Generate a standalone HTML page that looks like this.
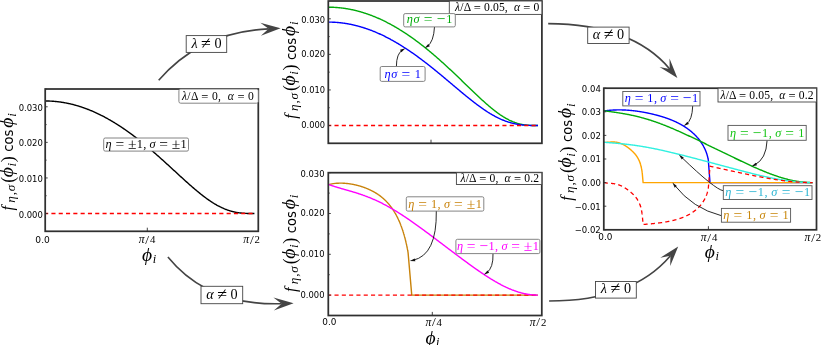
<!DOCTYPE html>
<html><head><meta charset="utf-8"><title>figure</title>
<style>
html,body{margin:0;padding:0;background:#fff;}
body{width:822px;height:345px;overflow:hidden;}
svg{display:block;will-change:transform;}
.tk{font-family:"DejaVu Sans","Liberation Sans",sans-serif;font-size:8.9px;fill:#000;}
.m{font-family:"Liberation Serif",serif;}
.mi{font-family:"Liberation Serif",serif;font-style:italic;}
.op{font-family:"Liberation Serif","DejaVu Serif",serif;}
.sn{font-family:"DejaVu Sans","Liberation Sans",sans-serif;}
</style></head><body>
<svg width="822" height="345" viewBox="0 0 822 345">
<rect width="822" height="345" fill="#fff"/>
<polyline points="45.20,100.99 45.72,100.99 46.25,100.99 46.77,101.00 47.30,101.01 47.82,101.02 48.35,101.03 48.87,101.05 49.39,101.07 49.92,101.09 50.44,101.12 50.97,101.14 51.49,101.17 52.02,101.20 52.54,101.24 53.07,101.28 53.59,101.31 54.11,101.36 54.64,101.40 55.16,101.45 55.69,101.50 56.21,101.55 56.74,101.60 57.26,101.66 57.78,101.72 58.31,101.78 58.83,101.85 59.36,101.92 59.88,101.99 60.41,102.06 60.93,102.13 61.45,102.21 61.98,102.29 62.50,102.37 63.03,102.46 63.55,102.55 64.08,102.64 64.60,102.73 65.12,102.82 65.65,102.92 66.17,103.02 66.70,103.12 67.22,103.23 67.75,103.34 68.27,103.45 68.80,103.56 69.32,103.68 69.84,103.79 70.37,103.91 70.89,104.04 71.42,104.16 71.94,104.29 72.47,104.42 72.99,104.55 73.51,104.69 74.04,104.83 74.56,104.97 75.09,105.11 75.61,105.25 76.14,105.40 76.66,105.55 77.18,105.70 77.71,105.86 78.23,106.02 78.76,106.18 79.28,106.34 79.81,106.51 80.33,106.67 80.85,106.84 81.38,107.02 81.90,107.19 82.43,107.37 82.95,107.55 83.48,107.73 84.00,107.91 84.53,108.10 85.05,108.29 85.57,108.48 86.10,108.68 86.62,108.87 87.15,109.07 87.67,109.27 88.20,109.48 88.72,109.69 89.24,109.89 89.77,110.11 90.29,110.32 90.82,110.54 91.34,110.75 91.87,110.98 92.39,111.20 92.91,111.42 93.44,111.65 93.96,111.88 94.49,112.12 95.01,112.35 95.54,112.59 96.06,112.83 96.59,113.07 97.11,113.32 97.63,113.56 98.16,113.81 98.68,114.06 99.21,114.32 99.73,114.57 100.26,114.83 100.78,115.09 101.30,115.36 101.83,115.62 102.35,115.89 102.88,116.16 103.40,116.43 103.93,116.71 104.45,116.99 104.97,117.27 105.50,117.55 106.02,117.83 106.55,118.12 107.07,118.41 107.60,118.70 108.12,118.99 108.64,119.29 109.17,119.58 109.69,119.88 110.22,120.19 110.74,120.49 111.27,120.80 111.79,121.10 112.32,121.42 112.84,121.73 113.36,122.04 113.89,122.36 114.41,122.68 114.94,123.00 115.46,123.33 115.99,123.65 116.51,123.98 117.03,124.31 117.56,124.64 118.08,124.98 118.61,125.32 119.13,125.66 119.66,126.00 120.18,126.34 120.70,126.68 121.23,127.03 121.75,127.38 122.28,127.73 122.80,128.09 123.33,128.44 123.85,128.80 124.37,129.16 124.90,129.52 125.42,129.88 125.95,130.25 126.47,130.62 127.00,130.99 127.52,131.36 128.05,131.73 128.57,132.11 129.09,132.49 129.62,132.87 130.14,133.25 130.67,133.63 131.19,134.02 131.72,134.40 132.24,134.79 132.76,135.18 133.29,135.57 133.81,135.97 134.34,136.37 134.86,136.76 135.39,137.16 135.91,137.57 136.43,137.97 136.96,138.37 137.48,138.78 138.01,139.19 138.53,139.60 139.06,140.01 139.58,140.43 140.10,140.84 140.63,141.26 141.15,141.68 141.68,142.10 142.20,142.52 142.73,142.95 143.25,143.37 143.78,143.80 144.30,144.23 144.82,144.66 145.35,145.09 145.87,145.53 146.40,145.96 146.92,146.40 147.45,146.84 147.97,147.28 148.49,147.72 149.02,148.16 149.54,148.60 150.07,149.05 150.59,149.49 151.12,149.94 151.64,150.39 152.16,150.84 152.69,151.29 153.21,151.75 153.74,152.20 154.26,152.66 154.79,153.11 155.31,153.57 155.84,154.03 156.36,154.49 156.88,154.95 157.41,155.41 157.93,155.88 158.46,156.34 158.98,156.81 159.51,157.27 160.03,157.74 160.55,158.21 161.08,158.68 161.60,159.15 162.13,159.62 162.65,160.09 163.18,160.57 163.70,161.04 164.22,161.51 164.75,161.99 165.27,162.46 165.80,162.94 166.32,163.42 166.85,163.90 167.37,164.37 167.89,164.85 168.42,165.33 168.94,165.81 169.47,166.29 169.99,166.77 170.52,167.25 171.04,167.73 171.57,168.22 172.09,168.70 172.61,169.18 173.14,169.66 173.66,170.14 174.19,170.63 174.71,171.11 175.24,171.59 175.76,172.07 176.28,172.55 176.81,173.04 177.33,173.52 177.86,174.00 178.38,174.48 178.91,174.96 179.43,175.44 179.95,175.92 180.48,176.40 181.00,176.88 181.53,177.36 182.05,177.84 182.58,178.32 183.10,178.80 183.62,179.27 184.15,179.75 184.67,180.22 185.20,180.70 185.72,181.17 186.25,181.64 186.77,182.11 187.30,182.58 187.82,183.05 188.34,183.52 188.87,183.98 189.39,184.45 189.92,184.91 190.44,185.37 190.97,185.83 191.49,186.29 192.01,186.74 192.54,187.20 193.06,187.65 193.59,188.10 194.11,188.55 194.64,189.00 195.16,189.45 195.68,189.89 196.21,190.33 196.73,190.77 197.26,191.20 197.78,191.64 198.31,192.07 198.83,192.50 199.36,192.92 199.88,193.35 200.40,193.77 200.93,194.19 201.45,194.60 201.98,195.01 202.50,195.42 203.03,195.83 203.55,196.23 204.07,196.63 204.60,197.02 205.12,197.42 205.65,197.80 206.17,198.19 206.70,198.57 207.22,198.95 207.74,199.32 208.27,199.69 208.79,200.06 209.32,200.42 209.84,200.78 210.37,201.13 210.89,201.48 211.41,201.83 211.94,202.17 212.46,202.51 212.99,202.84 213.51,203.17 214.04,203.49 214.56,203.81 215.09,204.12 215.61,204.43 216.13,204.73 216.66,205.03 217.18,205.33 217.71,205.61 218.23,205.90 218.76,206.18 219.28,206.45 219.80,206.72 220.33,206.98 220.85,207.24 221.38,207.49 221.90,207.74 222.43,207.98 222.95,208.21 223.47,208.44 224.00,208.67 224.52,208.89 225.05,209.10 225.57,209.31 226.10,209.51 226.62,209.71 227.14,209.90 227.67,210.09 228.19,210.27 228.72,210.44 229.24,210.61 229.77,210.78 230.29,210.93 230.82,211.09 231.34,211.23 231.86,211.38 232.39,211.51 232.91,211.64 233.44,211.77 233.96,211.89 234.49,212.00 235.01,212.11 235.53,212.22 236.06,212.32 236.58,212.42 237.11,212.51 237.63,212.59 238.16,212.67 238.68,212.75 239.20,212.82 239.73,212.89 240.25,212.95 240.78,213.01 241.30,213.06 241.83,213.11 242.35,213.16 242.88,213.20 243.40,213.24 243.92,213.28 244.45,213.31 244.97,213.34 245.50,213.37 246.02,213.39 246.55,213.41 247.07,213.43 247.59,213.45 248.12,213.46 248.64,213.47 249.17,213.48 249.69,213.49 250.22,213.50 250.74,213.50 251.26,213.51 251.79,213.51 252.31,213.51 252.84,213.51 253.36,213.51 253.89,213.51 254.41,213.51" fill="none" stroke="#000" stroke-width="1.4" stroke-linejoin="round" />
<line x1="45.20" y1="213.51" x2="254.41" y2="213.51" stroke="#ff0000" stroke-width="1.3" stroke-dasharray="4.1 3.2" stroke-dashoffset="1.1"/>
<polyline points="328.30,7.19 328.83,7.19 329.35,7.20 329.88,7.20 330.40,7.21 330.93,7.22 331.45,7.23 331.98,7.25 332.50,7.27 333.03,7.29 333.56,7.31 334.08,7.34 334.61,7.37 335.13,7.40 335.66,7.43 336.18,7.47 336.71,7.51 337.23,7.55 337.76,7.59 338.29,7.64 338.81,7.68 339.34,7.74 339.86,7.79 340.39,7.84 340.91,7.90 341.44,7.96 341.96,8.03 342.49,8.09 343.02,8.16 343.54,8.23 344.07,8.30 344.59,8.38 345.12,8.46 345.64,8.54 346.17,8.62 346.69,8.70 347.22,8.79 347.75,8.88 348.27,8.97 348.80,9.07 349.32,9.17 349.85,9.27 350.37,9.37 350.90,9.47 351.42,9.58 351.95,9.69 352.48,9.80 353.00,9.92 353.53,10.04 354.05,10.16 354.58,10.28 355.10,10.40 355.63,10.53 356.16,10.66 356.68,10.79 357.21,10.92 357.73,11.06 358.26,11.20 358.78,11.34 359.31,11.48 359.83,11.63 360.36,11.78 360.89,11.93 361.41,12.08 361.94,12.24 362.46,12.40 362.99,12.56 363.51,12.72 364.04,12.89 364.56,13.06 365.09,13.23 365.62,13.40 366.14,13.57 366.67,13.75 367.19,13.93 367.72,14.11 368.24,14.30 368.77,14.49 369.29,14.68 369.82,14.87 370.35,15.06 370.87,15.26 371.40,15.46 371.92,15.66 372.45,15.86 372.97,16.07 373.50,16.28 374.02,16.49 374.55,16.70 375.08,16.92 375.60,17.14 376.13,17.36 376.65,17.58 377.18,17.80 377.70,18.03 378.23,18.26 378.75,18.49 379.28,18.73 379.81,18.96 380.33,19.20 380.86,19.44 381.38,19.69 381.91,19.93 382.43,20.18 382.96,20.43 383.48,20.69 384.01,20.94 384.54,21.20 385.06,21.46 385.59,21.72 386.11,21.98 386.64,22.25 387.16,22.52 387.69,22.79 388.21,23.07 388.74,23.34 389.27,23.62 389.79,23.90 390.32,24.18 390.84,24.47 391.37,24.75 391.89,25.04 392.42,25.34 392.94,25.63 393.47,25.93 394.00,26.22 394.52,26.52 395.05,26.83 395.57,27.13 396.10,27.44 396.62,27.75 397.15,28.06 397.67,28.37 398.20,28.69 398.73,29.01 399.25,29.33 399.78,29.65 400.30,29.98 400.83,30.30 401.35,30.63 401.88,30.96 402.40,31.30 402.93,31.63 403.46,31.97 403.98,32.31 404.51,32.65 405.03,33.00 405.56,33.34 406.08,33.69 406.61,34.04 407.14,34.39 407.66,34.75 408.19,35.10 408.71,35.46 409.24,35.82 409.76,36.19 410.29,36.55 410.81,36.92 411.34,37.29 411.87,37.66 412.39,38.03 412.92,38.41 413.44,38.78 413.97,39.16 414.49,39.54 415.02,39.93 415.54,40.31 416.07,40.70 416.60,41.09 417.12,41.48 417.65,41.87 418.17,42.27 418.70,42.67 419.22,43.06 419.75,43.47 420.27,43.87 420.80,44.27 421.33,44.68 421.85,45.09 422.38,45.50 422.90,45.91 423.43,46.32 423.95,46.74 424.48,47.16 425.00,47.58 425.53,48.00 426.06,48.42 426.58,48.85 427.11,49.27 427.63,49.70 428.16,50.13 428.68,50.57 429.21,51.00 429.73,51.43 430.26,51.87 430.79,52.31 431.31,52.75 431.84,53.19 432.36,53.64 432.89,54.08 433.41,54.53 433.94,54.98 434.46,55.43 434.99,55.88 435.52,56.34 436.04,56.79 436.57,57.25 437.09,57.71 437.62,58.17 438.14,58.63 438.67,59.09 439.19,59.56 439.72,60.02 440.25,60.49 440.77,60.96 441.30,61.43 441.82,61.90 442.35,62.37 442.87,62.85 443.40,63.32 443.92,63.80 444.45,64.28 444.98,64.76 445.50,65.24 446.03,65.72 446.55,66.20 447.08,66.69 447.60,67.17 448.13,67.66 448.65,68.15 449.18,68.64 449.71,69.13 450.23,69.62 450.76,70.11 451.28,70.60 451.81,71.10 452.33,71.59 452.86,72.09 453.38,72.58 453.91,73.08 454.44,73.58 454.96,74.08 455.49,74.58 456.01,75.08 456.54,75.58 457.06,76.08 457.59,76.59 458.12,77.09 458.64,77.59 459.17,78.10 459.69,78.60 460.22,79.11 460.74,79.61 461.27,80.12 461.79,80.63 462.32,81.13 462.85,81.64 463.37,82.15 463.90,82.66 464.42,83.16 464.95,83.67 465.47,84.18 466.00,84.69 466.52,85.20 467.05,85.70 467.58,86.21 468.10,86.72 468.63,87.23 469.15,87.73 469.68,88.24 470.20,88.75 470.73,89.25 471.25,89.76 471.78,90.26 472.31,90.77 472.83,91.27 473.36,91.77 473.88,92.27 474.41,92.77 474.93,93.27 475.46,93.77 475.98,94.27 476.51,94.77 477.04,95.27 477.56,95.76 478.09,96.25 478.61,96.75 479.14,97.24 479.66,97.72 480.19,98.21 480.71,98.70 481.24,99.18 481.77,99.66 482.29,100.14 482.82,100.62 483.34,101.10 483.87,101.57 484.39,102.04 484.92,102.51 485.44,102.98 485.97,103.44 486.50,103.91 487.02,104.37 487.55,104.82 488.07,105.28 488.60,105.73 489.12,106.17 489.65,106.62 490.17,107.06 490.70,107.50 491.23,107.93 491.75,108.36 492.28,108.79 492.80,109.22 493.33,109.64 493.85,110.05 494.38,110.46 494.90,110.87 495.43,111.28 495.96,111.68 496.48,112.07 497.01,112.46 497.53,112.85 498.06,113.23 498.58,113.61 499.11,113.98 499.63,114.34 500.16,114.71 500.69,115.06 501.21,115.42 501.74,115.76 502.26,116.10 502.79,116.44 503.31,116.77 503.84,117.09 504.37,117.41 504.89,117.72 505.42,118.03 505.94,118.33 506.47,118.63 506.99,118.91 507.52,119.20 508.04,119.47 508.57,119.74 509.10,120.01 509.62,120.26 510.15,120.51 510.67,120.76 511.20,121.00 511.72,121.23 512.25,121.45 512.77,121.67 513.30,121.88 513.83,122.09 514.35,122.28 514.88,122.48 515.40,122.66 515.93,122.84 516.45,123.01 516.98,123.18 517.50,123.33 518.03,123.49 518.56,123.63 519.08,123.77 519.61,123.90 520.13,124.03 520.66,124.15 521.18,124.26 521.71,124.37 522.23,124.47 522.76,124.57 523.29,124.66 523.81,124.75 524.34,124.83 524.86,124.90 525.39,124.97 525.91,125.03 526.44,125.09 526.96,125.14 527.49,125.19 528.02,125.24 528.54,125.28 529.07,125.31 529.59,125.35 530.12,125.38 530.64,125.40 531.17,125.42 531.69,125.44 532.22,125.46 532.75,125.47 533.27,125.48 533.80,125.49 534.32,125.50 534.85,125.50 535.37,125.51 535.90,125.51 536.42,125.51 536.95,125.51 537.48,125.51 538.00,125.51" fill="none" stroke="#00aa0a" stroke-width="1.4" stroke-linejoin="round" />
<polyline points="328.30,22.10 328.83,22.10 329.35,22.10 329.88,22.11 330.40,22.12 330.93,22.13 331.45,22.14 331.98,22.16 332.50,22.18 333.03,22.20 333.56,22.22 334.08,22.25 334.61,22.28 335.13,22.31 335.66,22.34 336.18,22.38 336.71,22.42 337.23,22.46 337.76,22.50 338.29,22.55 338.81,22.60 339.34,22.65 339.86,22.70 340.39,22.76 340.91,22.82 341.44,22.88 341.96,22.95 342.49,23.01 343.02,23.08 343.54,23.15 344.07,23.23 344.59,23.30 345.12,23.38 345.64,23.46 346.17,23.55 346.69,23.63 347.22,23.72 347.75,23.81 348.27,23.91 348.80,24.01 349.32,24.10 349.85,24.21 350.37,24.31 350.90,24.42 351.42,24.52 351.95,24.64 352.48,24.75 353.00,24.87 353.53,24.98 354.05,25.11 354.58,25.23 355.10,25.36 355.63,25.48 356.16,25.62 356.68,25.75 357.21,25.88 357.73,26.02 358.26,26.16 358.78,26.31 359.31,26.45 359.83,26.60 360.36,26.75 360.89,26.90 361.41,27.06 361.94,27.22 362.46,27.38 362.99,27.54 363.51,27.71 364.04,27.87 364.56,28.04 365.09,28.22 365.62,28.39 366.14,28.57 366.67,28.75 367.19,28.93 367.72,29.11 368.24,29.30 368.77,29.49 369.29,29.68 369.82,29.87 370.35,30.07 370.87,30.27 371.40,30.47 371.92,30.67 372.45,30.88 372.97,31.09 373.50,31.30 374.02,31.51 374.55,31.72 375.08,31.94 375.60,32.16 376.13,32.38 376.65,32.61 377.18,32.83 377.70,33.06 378.23,33.29 378.75,33.53 379.28,33.76 379.81,34.00 380.33,34.24 380.86,34.48 381.38,34.73 381.91,34.97 382.43,35.22 382.96,35.48 383.48,35.73 384.01,35.99 384.54,36.24 385.06,36.50 385.59,36.77 386.11,37.03 386.64,37.30 387.16,37.57 387.69,37.84 388.21,38.11 388.74,38.39 389.27,38.67 389.79,38.95 390.32,39.23 390.84,39.52 391.37,39.80 391.89,40.09 392.42,40.38 392.94,40.68 393.47,40.97 394.00,41.27 394.52,41.57 395.05,41.87 395.57,42.17 396.10,42.48 396.62,42.79 397.15,43.10 397.67,43.41 398.20,43.72 398.73,44.04 399.25,44.36 399.78,44.68 400.30,45.00 400.83,45.32 401.35,45.65 401.88,45.98 402.40,46.31 402.93,46.64 403.46,46.97 403.98,47.31 404.51,47.64 405.03,47.98 405.56,48.33 406.08,48.67 406.61,49.01 407.14,49.36 407.66,49.71 408.19,50.06 408.71,50.41 409.24,50.77 409.76,51.13 410.29,51.48 410.81,51.84 411.34,52.21 411.87,52.57 412.39,52.93 412.92,53.30 413.44,53.67 413.97,54.04 414.49,54.41 415.02,54.79 415.54,55.16 416.07,55.54 416.60,55.92 417.12,56.30 417.65,56.68 418.17,57.06 418.70,57.45 419.22,57.84 419.75,58.23 420.27,58.62 420.80,59.01 421.33,59.40 421.85,59.79 422.38,60.19 422.90,60.59 423.43,60.99 423.95,61.39 424.48,61.79 425.00,62.19 425.53,62.60 426.06,63.00 426.58,63.41 427.11,63.82 427.63,64.23 428.16,64.64 428.68,65.05 429.21,65.47 429.73,65.88 430.26,66.30 430.79,66.71 431.31,67.13 431.84,67.55 432.36,67.97 432.89,68.39 433.41,68.82 433.94,69.24 434.46,69.66 434.99,70.09 435.52,70.52 436.04,70.95 436.57,71.37 437.09,71.80 437.62,72.23 438.14,72.67 438.67,73.10 439.19,73.53 439.72,73.96 440.25,74.40 440.77,74.83 441.30,75.27 441.82,75.71 442.35,76.14 442.87,76.58 443.40,77.02 443.92,77.46 444.45,77.90 444.98,78.34 445.50,78.78 446.03,79.22 446.55,79.66 447.08,80.10 447.60,80.54 448.13,80.99 448.65,81.43 449.18,81.87 449.71,82.32 450.23,82.76 450.76,83.20 451.28,83.64 451.81,84.09 452.33,84.53 452.86,84.97 453.38,85.42 453.91,85.86 454.44,86.30 454.96,86.75 455.49,87.19 456.01,87.63 456.54,88.07 457.06,88.52 457.59,88.96 458.12,89.40 458.64,89.84 459.17,90.28 459.69,90.72 460.22,91.16 460.74,91.60 461.27,92.03 461.79,92.47 462.32,92.91 462.85,93.34 463.37,93.78 463.90,94.21 464.42,94.64 464.95,95.07 465.47,95.50 466.00,95.93 466.52,96.36 467.05,96.79 467.58,97.21 468.10,97.64 468.63,98.06 469.15,98.48 469.68,98.90 470.20,99.32 470.73,99.74 471.25,100.15 471.78,100.57 472.31,100.98 472.83,101.39 473.36,101.80 473.88,102.20 474.41,102.61 474.93,103.01 475.46,103.41 475.98,103.81 476.51,104.21 477.04,104.60 477.56,104.99 478.09,105.38 478.61,105.77 479.14,106.15 479.66,106.53 480.19,106.91 480.71,107.29 481.24,107.66 481.77,108.04 482.29,108.40 482.82,108.77 483.34,109.13 483.87,109.49 484.39,109.85 484.92,110.20 485.44,110.55 485.97,110.90 486.50,111.24 487.02,111.59 487.55,111.92 488.07,112.26 488.60,112.59 489.12,112.91 489.65,113.24 490.17,113.56 490.70,113.87 491.23,114.19 491.75,114.49 492.28,114.80 492.80,115.10 493.33,115.40 493.85,115.69 494.38,115.98 494.90,116.26 495.43,116.54 495.96,116.82 496.48,117.09 497.01,117.36 497.53,117.62 498.06,117.88 498.58,118.14 499.11,118.39 499.63,118.64 500.16,118.88 500.69,119.11 501.21,119.35 501.74,119.58 502.26,119.80 502.79,120.02 503.31,120.23 503.84,120.44 504.37,120.65 504.89,120.85 505.42,121.05 505.94,121.24 506.47,121.42 506.99,121.61 507.52,121.78 508.04,121.96 508.57,122.12 509.10,122.29 509.62,122.45 510.15,122.60 510.67,122.75 511.20,122.90 511.72,123.04 512.25,123.17 512.77,123.30 513.30,123.43 513.83,123.55 514.35,123.67 514.88,123.78 515.40,123.89 515.93,124.00 516.45,124.10 516.98,124.19 517.50,124.29 518.03,124.37 518.56,124.46 519.08,124.54 519.61,124.61 520.13,124.69 520.66,124.76 521.18,124.82 521.71,124.88 522.23,124.94 522.76,124.99 523.29,125.04 523.81,125.09 524.34,125.14 524.86,125.18 525.39,125.21 525.91,125.25 526.44,125.28 526.96,125.31 527.49,125.34 528.02,125.36 528.54,125.39 529.07,125.41 529.59,125.42 530.12,125.44 530.64,125.45 531.17,125.46 531.69,125.47 532.22,125.48 532.75,125.49 533.27,125.50 533.80,125.50 534.32,125.50 534.85,125.51 535.37,125.51 535.90,125.51 536.42,125.51 536.95,125.51 537.48,125.51 538.00,125.51" fill="none" stroke="#0000ff" stroke-width="1.4" stroke-linejoin="round" />
<line x1="328.30" y1="125.51" x2="538.00" y2="125.51" stroke="#ff0000" stroke-width="1.3" stroke-dasharray="4.1 3.2" stroke-dashoffset="1.1"/>
<polyline points="328.30,184.60 333.23,183.66 335.27,183.41 336.83,183.28 338.15,183.21 339.31,183.17 340.36,183.15 341.32,183.15 342.22,183.17 343.06,183.20 343.85,183.24 344.60,183.28 345.32,183.33 346.01,183.39 346.68,183.45 347.32,183.52 347.93,183.59 348.53,183.66 349.11,183.74 349.68,183.82 350.23,183.90 350.76,183.99 351.28,184.07 351.79,184.16 352.29,184.25 352.78,184.34 353.26,184.43 353.73,184.53 354.18,184.62 354.63,184.72 355.08,184.82 355.51,184.91 355.94,185.01 356.36,185.12 356.77,185.22 357.18,185.32 357.58,185.42 357.97,185.53 358.36,185.63 358.75,185.74 359.13,185.84 359.50,185.95 359.87,186.06 360.23,186.16 360.59,186.27 360.95,186.38 361.30,186.49 361.64,186.60 361.99,186.71 362.32,186.83 362.66,186.94 362.99,187.05 363.32,187.16 363.64,187.28 363.96,187.39 364.28,187.51 364.59,187.62 364.90,187.74 365.21,187.85 365.52,187.97 365.82,188.09 366.12,188.21 366.42,188.32 366.71,188.44 367.00,188.56 367.29,188.68 367.57,188.80 367.86,188.92 368.14,189.04 368.42,189.16 368.69,189.29 368.97,189.41 369.24,189.53 369.51,189.66 369.78,189.78 370.04,189.90 370.31,190.03 370.57,190.15 370.83,190.28 371.08,190.41 371.34,190.53 371.59,190.66 371.84,190.79 372.09,190.92 372.34,191.04 372.59,191.17 372.83,191.30 373.08,191.43 373.32,191.57 373.56,191.70 373.79,191.83 374.03,191.96 374.26,192.09 374.50,192.23 374.73,192.36 374.96,192.49 375.19,192.63 375.41,192.77 375.64,192.90 375.86,193.04 376.09,193.17 376.31,193.31 376.53,193.45 376.75,193.59 376.96,193.73 377.18,193.87 377.39,194.01 377.61,194.15 377.82,194.29 378.03,194.43 378.24,194.58 378.45,194.72 378.65,194.86 378.86,195.01 379.06,195.15 379.27,195.30 379.47,195.44 379.67,195.59 379.87,195.74 380.07,195.88 380.27,196.03 380.46,196.18 380.66,196.33 380.85,196.48 381.04,196.63 381.24,196.78 381.43,196.93 381.62,197.09 381.81,197.24 381.99,197.39 382.18,197.55 382.37,197.70 382.55,197.86 382.74,198.01 382.92,198.17 383.10,198.33 383.28,198.49 383.46,198.64 383.64,198.80 383.82,198.96 384.00,199.12 384.17,199.29 384.35,199.45 384.52,199.61 384.70,199.77 384.87,199.94 385.04,200.10 385.21,200.27 385.38,200.43 385.55,200.60 385.72,200.76 385.89,200.93 386.06,201.10 386.22,201.27 386.39,201.44 386.55,201.61 386.71,201.78 386.88,201.95 387.04,202.12 387.20,202.30 387.36,202.47 387.52,202.64 387.68,202.82 387.84,202.99 387.99,203.17 388.15,203.35 388.31,203.52 388.46,203.70 388.62,203.88 388.77,204.06 388.92,204.24 389.07,204.42 389.22,204.60 389.37,204.78 389.52,204.97 389.67,205.15 389.82,205.34 389.97,205.52 390.12,205.71 390.26,205.89 390.41,206.08 390.55,206.27 390.70,206.46 390.84,206.64 390.98,206.83 391.13,207.02 391.27,207.22 391.41,207.41 391.55,207.60 391.69,207.79 391.83,207.99 391.96,208.18 392.10,208.38 392.24,208.57 392.38,208.77 392.51,208.97 392.65,209.16 392.78,209.36 392.91,209.56 393.05,209.76 393.18,209.96 393.31,210.16 393.44,210.37 393.57,210.57 393.70,210.77 393.83,210.98 393.96,211.18 394.09,211.39 394.22,211.59 394.34,211.80 394.47,212.01 394.60,212.22 394.72,212.43 394.85,212.64 394.97,212.85 395.09,213.06 395.22,213.27 395.34,213.48 395.46,213.70 395.58,213.91 395.70,214.12 395.82,214.34 395.94,214.56 396.06,214.77 396.18,214.99 396.30,215.21 396.41,215.43 396.53,215.65 396.65,215.87 396.76,216.09 396.88,216.31 396.99,216.53 397.10,216.75 397.22,216.98 397.33,217.20 397.44,217.43 397.55,217.65 397.67,217.88 397.78,218.11 397.89,218.33 398.00,218.56 398.11,218.79 398.21,219.02 398.32,219.25 398.43,219.48 398.54,219.71 398.64,219.95 398.75,220.18 398.85,220.41 398.96,220.65 399.06,220.88 399.17,221.12 399.27,221.36 399.37,221.59 399.48,221.83 399.58,222.07 399.68,222.31 399.78,222.55 399.88,222.79 399.98,223.03 400.08,223.27 400.18,223.52 400.28,223.76 400.38,224.00 400.47,224.25 400.57,224.49 400.67,224.74 400.76,224.98 400.86,225.23 400.95,225.48 401.05,225.73 401.14,225.98 401.24,226.23 401.33,226.48 401.42,226.73 401.51,226.98 401.60,227.23 401.70,227.48 401.79,227.74 401.88,227.99 401.97,228.25 402.06,228.50 402.15,228.76 402.23,229.02 402.32,229.27 402.41,229.53 402.50,229.79 402.58,230.05 402.67,230.31 402.75,230.57 402.84,230.83 402.92,231.09 403.01,231.35 403.09,231.62 403.17,231.88 403.26,232.14 403.34,232.41 403.42,232.67 403.50,232.94 403.58,233.21 403.67,233.47 403.75,233.74 403.82,234.01 403.90,234.28 403.98,234.55 404.06,234.82 404.14,235.09 404.22,235.36 404.29,235.63 404.37,235.90 404.45,236.18 404.52,236.45 404.60,236.73 404.67,237.00 404.75,237.28 404.82,237.55 404.89,237.83 404.97,238.10 405.04,238.38 405.11,238.66 405.18,238.94 405.25,239.22 405.33,239.50 405.40,239.78 405.47,240.06 405.54,240.34 405.60,240.62 405.67,240.91 405.74,241.19 405.81,241.47 405.88,241.76 405.94,242.04 406.01,242.33 406.08,242.61 406.14,242.90 406.21,243.18 406.27,243.47 406.34,243.76 406.40,244.05 406.46,244.34 406.53,244.63 406.59,244.92 406.65,245.21 406.72,245.50 406.78,245.79 406.84,246.08 406.90,246.37 406.96,246.67 407.02,246.96 407.08,247.25 407.14,247.55 407.20,247.84 407.25,248.14 407.31,248.43 407.37,248.73 407.43,249.02 407.48,249.32 407.54,249.62 407.59,249.92 407.65,250.22 407.70,250.51 407.76,250.81 407.81,251.11 407.87,251.41 407.92,251.71 407.97,252.02 408.02,252.32 408.08,252.62 411.75,295.10 537.90,295.10" fill="none" stroke="#c8820a" stroke-width="1.4" stroke-linejoin="round" />
<line x1="328.30" y1="295.10" x2="537.90" y2="295.10" stroke="#ff0000" stroke-width="1.3" stroke-dasharray="4.1 3.2" stroke-dashoffset="1.1"/>
<polyline points="328.30,184.35 328.83,184.54 329.35,184.73 329.88,184.92 330.40,185.10 330.93,185.29 331.45,185.46 331.98,185.64 332.50,185.82 333.03,185.99 333.55,186.16 334.08,186.33 334.60,186.50 335.13,186.66 335.65,186.83 336.18,186.99 336.71,187.15 337.23,187.31 337.76,187.47 338.28,187.63 338.81,187.79 339.33,187.94 339.86,188.10 340.38,188.25 340.91,188.40 341.43,188.55 341.96,188.71 342.48,188.86 343.01,189.01 343.53,189.16 344.06,189.31 344.58,189.46 345.11,189.61 345.64,189.76 346.16,189.91 346.69,190.06 347.21,190.21 347.74,190.36 348.26,190.51 348.79,190.66 349.31,190.82 349.84,190.97 350.36,191.12 350.89,191.28 351.41,191.43 351.94,191.59 352.46,191.74 352.99,191.90 353.52,192.06 354.04,192.22 354.57,192.38 355.09,192.54 355.62,192.70 356.14,192.87 356.67,193.03 357.19,193.20 357.72,193.37 358.24,193.54 358.77,193.71 359.29,193.88 359.82,194.05 360.34,194.23 360.87,194.41 361.40,194.59 361.92,194.77 362.45,194.95 362.97,195.14 363.50,195.32 364.02,195.51 364.55,195.70 365.07,195.90 365.60,196.09 366.12,196.29 366.65,196.49 367.17,196.69 367.70,196.89 368.22,197.10 368.75,197.30 369.28,197.51 369.80,197.72 370.33,197.94 370.85,198.15 371.38,198.37 371.90,198.59 372.43,198.82 372.95,199.04 373.48,199.27 374.00,199.50 374.53,199.73 375.05,199.97 375.58,200.20 376.10,200.44 376.63,200.68 377.15,200.93 377.68,201.17 378.21,201.42 378.73,201.67 379.26,201.92 379.78,202.18 380.31,202.44 380.83,202.70 381.36,202.96 381.88,203.22 382.41,203.49 382.93,203.76 383.46,204.03 383.98,204.31 384.51,204.58 385.03,204.86 385.56,205.14 386.09,205.42 386.61,205.71 387.14,206.00 387.66,206.29 388.19,206.58 388.71,206.87 389.24,207.17 389.76,207.47 390.29,207.77 390.81,208.07 391.34,208.37 391.86,208.68 392.39,208.99 392.91,209.30 393.44,209.61 393.97,209.92 394.49,210.24 395.02,210.56 395.54,210.88 396.07,211.20 396.59,211.52 397.12,211.85 397.64,212.18 398.17,212.50 398.69,212.84 399.22,213.17 399.74,213.50 400.27,213.84 400.79,214.18 401.32,214.52 401.84,214.86 402.37,215.20 402.90,215.54 403.42,215.89 403.95,216.24 404.47,216.58 405.00,216.93 405.52,217.28 406.05,217.64 406.57,217.99 407.10,218.35 407.62,218.70 408.15,219.06 408.67,219.42 409.20,219.78 409.72,220.14 410.25,220.51 410.78,220.87 411.30,221.24 411.83,221.60 412.35,221.97 412.88,222.34 413.40,222.71 413.93,223.08 414.45,223.45 414.98,223.82 415.50,224.20 416.03,224.57 416.55,224.95 417.08,225.33 417.60,225.70 418.13,226.08 418.66,226.46 419.18,226.84 419.71,227.22 420.23,227.60 420.76,227.98 421.28,228.37 421.81,228.75 422.33,229.13 422.86,229.52 423.38,229.90 423.91,230.29 424.43,230.68 424.96,231.06 425.48,231.45 426.01,231.84 426.54,232.23 427.06,232.62 427.59,233.01 428.11,233.40 428.64,233.79 429.16,234.18 429.69,234.57 430.21,234.96 430.74,235.36 431.26,235.75 431.79,236.14 432.31,236.54 432.84,236.93 433.36,237.32 433.89,237.72 434.41,238.11 434.94,238.51 435.47,238.90 435.99,239.30 436.52,239.69 437.04,240.09 437.57,240.49 438.09,240.88 438.62,241.28 439.14,241.68 439.67,242.07 440.19,242.47 440.72,242.87 441.24,243.26 441.77,243.66 442.29,244.06 442.82,244.46 443.35,244.85 443.87,245.25 444.40,245.65 444.92,246.05 445.45,246.44 445.97,246.84 446.50,247.24 447.02,247.63 447.55,248.03 448.07,248.43 448.60,248.83 449.12,249.22 449.65,249.62 450.17,250.02 450.70,250.41 451.23,250.81 451.75,251.21 452.28,251.60 452.80,252.00 453.33,252.39 453.85,252.79 454.38,253.18 454.90,253.58 455.43,253.97 455.95,254.37 456.48,254.76 457.00,255.16 457.53,255.55 458.05,255.94 458.58,256.34 459.10,256.73 459.63,257.12 460.16,257.51 460.68,257.90 461.21,258.29 461.73,258.69 462.26,259.08 462.78,259.46 463.31,259.85 463.83,260.24 464.36,260.63 464.88,261.02 465.41,261.40 465.93,261.79 466.46,262.17 466.98,262.56 467.51,262.94 468.04,263.33 468.56,263.71 469.09,264.09 469.61,264.47 470.14,264.85 470.66,265.23 471.19,265.61 471.71,265.98 472.24,266.36 472.76,266.74 473.29,267.11 473.81,267.49 474.34,267.86 474.86,268.23 475.39,268.60 475.92,268.97 476.44,269.34 476.97,269.70 477.49,270.07 478.02,270.44 478.54,270.80 479.07,271.16 479.59,271.52 480.12,271.88 480.64,272.24 481.17,272.60 481.69,272.95 482.22,273.30 482.74,273.66 483.27,274.01 483.80,274.36 484.32,274.70 484.85,275.05 485.37,275.39 485.90,275.74 486.42,276.08 486.95,276.42 487.47,276.75 488.00,277.09 488.52,277.42 489.05,277.75 489.57,278.08 490.10,278.41 490.62,278.74 491.15,279.06 491.67,279.38 492.20,279.70 492.73,280.02 493.25,280.33 493.78,280.64 494.30,280.95 494.83,281.26 495.35,281.57 495.88,281.87 496.40,282.17 496.93,282.47 497.45,282.76 497.98,283.06 498.50,283.35 499.03,283.64 499.55,283.92 500.08,284.20 500.61,284.48 501.13,284.76 501.66,285.03 502.18,285.30 502.71,285.57 503.23,285.84 503.76,286.10 504.28,286.36 504.81,286.61 505.33,286.86 505.86,287.11 506.38,287.36 506.91,287.60 507.43,287.84 507.96,288.08 508.49,288.31 509.01,288.54 509.54,288.77 510.06,288.99 510.59,289.21 511.11,289.43 511.64,289.64 512.16,289.85 512.69,290.05 513.21,290.25 513.74,290.45 514.26,290.64 514.79,290.84 515.31,291.02 515.84,291.20 516.36,291.38 516.89,291.56 517.42,291.73 517.94,291.90 518.47,292.06 518.99,292.22 519.52,292.37 520.04,292.52 520.57,292.67 521.09,292.81 521.62,292.95 522.14,293.09 522.67,293.22 523.19,293.34 523.72,293.46 524.24,293.58 524.77,293.70 525.30,293.80 525.82,293.91 526.35,294.01 526.87,294.11 527.40,294.20 527.92,294.29 528.45,294.37 528.97,294.45 529.50,294.52 530.02,294.59 530.55,294.66 531.07,294.72 531.60,294.77 532.12,294.83 532.65,294.87 533.18,294.92 533.70,294.95 534.23,294.99 534.75,295.02 535.28,295.04 535.80,295.06 536.33,295.08 536.85,295.09 537.38,295.10 537.90,295.10" fill="none" stroke="#ff00ff" stroke-width="1.4" stroke-linejoin="round" />
<polyline points="603.80,110.86 604.74,110.82 605.05,110.78 605.37,110.74 605.68,110.70 606.00,110.66 606.31,110.63 606.63,110.59 606.94,110.56 607.26,110.52 607.57,110.49 607.88,110.46 608.20,110.43 608.51,110.40 608.83,110.37 609.14,110.34 609.45,110.31 609.77,110.28 610.08,110.26 610.39,110.23 610.71,110.21 611.02,110.19 611.33,110.17 611.65,110.14 611.96,110.12 612.27,110.10 612.59,110.09 612.90,110.07 613.21,110.05 613.53,110.04 613.84,110.02 614.15,110.01 614.46,109.99 614.78,109.98 615.09,109.97 615.40,109.96 615.72,109.95 616.03,109.94 616.34,109.93 616.65,109.92 616.96,109.92 617.28,109.91 617.59,109.91 617.90,109.90 618.21,109.90 618.52,109.90 618.84,109.90 619.15,109.90 619.46,109.90 619.77,109.90 620.08,109.90 620.40,109.90 620.71,109.91 621.02,109.91 621.33,109.92 621.64,109.92 621.95,109.93 622.26,109.94 622.58,109.95 622.89,109.95 623.20,109.96 623.51,109.98 623.82,109.99 624.13,110.00 624.44,110.01 624.75,110.03 625.06,110.04 625.37,110.06 625.69,110.07 626.00,110.09 626.31,110.11 626.62,110.13 626.93,110.15 627.24,110.17 627.55,110.19 627.86,110.21 628.17,110.23 628.48,110.25 628.79,110.28 629.10,110.30 629.41,110.33 629.72,110.35 630.03,110.38 630.34,110.41 630.65,110.43 630.96,110.46 631.27,110.49 631.58,110.52 631.89,110.55 632.20,110.59 632.51,110.62 632.82,110.65 633.13,110.69 633.44,110.72 633.75,110.76 634.06,110.79 634.37,110.83 634.68,110.87 634.99,110.90 635.30,110.94 635.61,110.98 635.92,111.02 636.23,111.06 636.54,111.10 636.85,111.15 637.16,111.19 637.47,111.23 637.78,111.28 638.09,111.32 638.39,111.37 638.70,111.41 639.01,111.46 639.32,111.51 639.63,111.56 639.94,111.60 640.25,111.65 640.56,111.70 640.87,111.75 641.18,111.81 641.49,111.86 641.80,111.91 642.11,111.96 642.41,112.02 642.72,112.07 643.03,112.13 643.34,112.18 643.65,112.24 643.96,112.30 644.27,112.35 644.58,112.41 644.89,112.47 645.19,112.53 645.50,112.59 645.81,112.65 646.12,112.71 646.43,112.77 646.74,112.83 647.05,112.90 647.36,112.96 647.67,113.02 647.97,113.09 648.28,113.15 648.59,113.22 648.90,113.29 649.21,113.35 649.52,113.42 649.83,113.49 650.14,113.56 650.44,113.62 650.75,113.69 651.06,113.76 651.37,113.84 651.68,113.91 651.99,113.98 652.30,114.05 652.60,114.12 652.91,114.20 653.22,114.27 653.53,114.35 653.84,114.42 654.15,114.50 654.46,114.57 654.76,114.65 655.07,114.73 655.38,114.81 655.69,114.88 656.00,114.96 656.30,115.04 656.61,115.12 656.92,115.21 657.22,115.29 657.53,115.37 657.84,115.45 658.15,115.54 658.45,115.62 658.76,115.71 659.07,115.79 659.37,115.88 659.68,115.97 659.98,116.06 660.29,116.14 660.59,116.23 660.90,116.32 661.20,116.41 661.51,116.51 661.81,116.60 662.12,116.69 662.42,116.78 662.72,116.88 663.03,116.97 663.33,117.07 663.63,117.17 663.93,117.26 664.24,117.36 664.54,117.46 664.84,117.56 665.14,117.66 665.44,117.76 665.74,117.87 666.04,117.97 666.34,118.07 666.64,118.18 666.94,118.28 667.24,118.39 667.54,118.50 667.84,118.60 668.13,118.71 668.43,118.82 668.73,118.93 669.02,119.04 669.32,119.16 669.62,119.27 669.91,119.38 670.21,119.50 670.50,119.61 670.79,119.73 671.09,119.85 671.38,119.96 671.67,120.08 671.96,120.20 672.26,120.32 672.55,120.45 672.84,120.57 673.13,120.69 673.42,120.82 673.70,120.94 673.99,121.07 674.28,121.20 674.57,121.33 674.85,121.45 675.14,121.59 675.43,121.72 675.71,121.85 676.00,121.98 676.28,122.12 676.56,122.25 676.85,122.39 677.13,122.52 677.41,122.66 677.69,122.80 677.97,122.94 678.25,123.08 678.53,123.23 678.81,123.37 679.08,123.51 679.36,123.66 679.64,123.81 679.91,123.95 680.19,124.10 680.46,124.25 680.74,124.40 681.01,124.55 681.28,124.71 681.55,124.86 681.82,125.02 682.09,125.17 682.36,125.33 682.63,125.49 682.90,125.65 683.16,125.81 683.43,125.97 683.70,126.13 683.96,126.30 684.22,126.46 684.49,126.63 684.75,126.79 685.01,126.96 685.27,127.13 685.53,127.30 685.79,127.48 686.05,127.65 686.30,127.82 686.56,128.00 686.82,128.17 687.07,128.35 687.32,128.53 687.58,128.71 687.83,128.89 688.08,129.08 688.33,129.26 688.58,129.45 688.83,129.63 689.08,129.82 689.32,130.01 689.57,130.20 689.81,130.39 690.06,130.58 690.30,130.78 690.54,130.97 690.78,131.17 691.02,131.36 691.26,131.56 691.50,131.76 691.73,131.96 691.97,132.17 692.20,132.37 692.43,132.57 692.67,132.78 692.90,132.99 693.13,133.19 693.35,133.40 693.58,133.61 693.81,133.83 694.03,134.04 694.26,134.25 694.48,134.47 694.70,134.69 694.92,134.90 695.14,135.12 695.36,135.34 695.57,135.56 695.79,135.79 696.00,136.01 696.21,136.24 696.42,136.46 696.63,136.69 696.84,136.92 697.05,137.15 697.25,137.38 697.46,137.61 697.66,137.85 697.86,138.08 698.06,138.32 698.26,138.55 698.46,138.79 698.66,139.03 698.85,139.27 699.04,139.52 699.23,139.76 699.42,140.00 699.61,140.25 699.80,140.50 699.98,140.75 700.17,140.99 700.35,141.25 700.53,141.50 700.71,141.75 700.89,142.00 701.06,142.26 701.24,142.52 701.41,142.78 701.58,143.03 701.75,143.29 701.92,143.56 702.09,143.82 702.25,144.08 702.41,144.35 702.57,144.62 702.73,144.88 702.89,145.15 703.05,145.42 703.20,145.69 703.35,145.97 703.50,146.24 703.65,146.51 703.80,146.79 703.94,147.07 704.09,147.35 704.23,147.63 704.37,147.91 704.51,148.19 704.64,148.47 704.78,148.76 704.91,149.04 705.04,149.33 705.17,149.62 705.30,149.91 705.42,150.20 705.54,150.49 705.66,150.79 705.78,151.08 705.90,151.38 706.01,151.67 706.13,151.97 706.24,152.27 706.35,152.57 706.45,152.87 706.56,153.18 706.66,153.48 706.76,153.79 706.86,154.09 706.96,154.40 707.05,154.71 707.14,155.02 707.23,155.33 707.32,155.64 707.41,155.96 707.49,156.27 707.57,156.59 707.65,156.91 707.73,157.23 707.80,157.55 707.88,157.87 707.95,158.19 708.01,158.51 708.08,158.84 708.14,159.17 708.20,159.49 708.26,159.82 708.32,160.15 710.00,182.60 812.62,182.60" fill="none" stroke="#0000ff" stroke-width="1.4" stroke-linejoin="round" />
<polyline points="603.80,110.72 604.32,110.79 604.85,110.87 605.37,110.94 605.89,111.01 606.42,111.09 606.94,111.16 607.46,111.23 607.99,111.31 608.51,111.38 609.03,111.45 609.56,111.53 610.08,111.60 610.60,111.67 611.13,111.75 611.65,111.82 612.17,111.89 612.70,111.97 613.22,112.05 613.74,112.12 614.27,112.20 614.79,112.27 615.31,112.35 615.84,112.43 616.36,112.51 616.88,112.59 617.41,112.67 617.93,112.75 618.45,112.83 618.98,112.91 619.50,112.99 620.02,113.08 620.55,113.16 621.07,113.25 621.59,113.33 622.12,113.42 622.64,113.51 623.16,113.60 623.69,113.69 624.21,113.78 624.73,113.88 625.26,113.97 625.78,114.07 626.30,114.16 626.83,114.26 627.35,114.36 627.87,114.46 628.40,114.56 628.92,114.67 629.44,114.77 629.97,114.88 630.49,114.98 631.01,115.09 631.54,115.20 632.06,115.32 632.58,115.43 633.11,115.54 633.63,115.66 634.15,115.78 634.68,115.90 635.20,116.02 635.72,116.14 636.25,116.26 636.77,116.39 637.29,116.51 637.82,116.64 638.34,116.77 638.86,116.90 639.39,117.04 639.91,117.17 640.43,117.31 640.96,117.44 641.48,117.58 642.00,117.73 642.53,117.87 643.05,118.01 643.57,118.16 644.10,118.31 644.62,118.45 645.14,118.61 645.67,118.76 646.19,118.91 646.71,119.07 647.24,119.22 647.76,119.38 648.28,119.54 648.81,119.71 649.33,119.87 649.86,120.04 650.38,120.20 650.90,120.37 651.43,120.54 651.95,120.71 652.47,120.88 653.00,121.06 653.52,121.24 654.04,121.41 654.57,121.59 655.09,121.77 655.61,121.95 656.14,122.14 656.66,122.32 657.18,122.51 657.71,122.70 658.23,122.89 658.75,123.08 659.28,123.27 659.80,123.46 660.32,123.66 660.85,123.85 661.37,124.05 661.89,124.25 662.42,124.45 662.94,124.65 663.46,124.86 663.99,125.06 664.51,125.26 665.03,125.47 665.56,125.68 666.08,125.89 666.60,126.10 667.13,126.31 667.65,126.52 668.17,126.73 668.70,126.95 669.22,127.16 669.74,127.38 670.27,127.60 670.79,127.82 671.31,128.04 671.84,128.26 672.36,128.48 672.88,128.70 673.41,128.93 673.93,129.15 674.45,129.38 674.98,129.60 675.50,129.83 676.02,130.06 676.55,130.29 677.07,130.52 677.59,130.75 678.12,130.98 678.64,131.21 679.16,131.45 679.69,131.68 680.21,131.92 680.73,132.15 681.26,132.39 681.78,132.62 682.30,132.86 682.83,133.10 683.35,133.34 683.87,133.58 684.40,133.82 684.92,134.06 685.44,134.30 685.97,134.54 686.49,134.78 687.01,135.02 687.54,135.27 688.06,135.51 688.58,135.75 689.11,136.00 689.63,136.24 690.15,136.49 690.68,136.74 691.20,136.98 691.72,137.23 692.25,137.48 692.77,137.72 693.29,137.97 693.82,138.22 694.34,138.47 694.86,138.72 695.39,138.97 695.91,139.22 696.43,139.47 696.96,139.72 697.48,139.97 698.00,140.22 698.53,140.47 699.05,140.72 699.57,140.97 700.10,141.22 700.62,141.47 701.14,141.73 701.67,141.98 702.19,142.23 702.71,142.48 703.24,142.74 703.76,142.99 704.28,143.24 704.81,143.50 705.33,143.75 705.85,144.00 706.38,144.26 706.90,144.51 707.42,144.77 707.95,145.02 708.47,145.27 708.99,145.53 709.52,145.78 710.04,146.04 710.56,146.29 711.09,146.55 711.61,146.80 712.13,147.06 712.66,147.31 713.18,147.57 713.70,147.82 714.23,148.08 714.75,148.33 715.27,148.59 715.80,148.84 716.32,149.10 716.84,149.35 717.37,149.61 717.89,149.86 718.41,150.12 718.94,150.37 719.46,150.63 719.98,150.88 720.51,151.14 721.03,151.40 721.55,151.65 722.08,151.91 722.60,152.16 723.12,152.42 723.65,152.67 724.17,152.93 724.69,153.18 725.22,153.43 725.74,153.69 726.26,153.94 726.79,154.20 727.31,154.45 727.83,154.71 728.36,154.96 728.88,155.21 729.40,155.47 729.93,155.72 730.45,155.97 730.97,156.23 731.50,156.48 732.02,156.73 732.54,156.99 733.07,157.24 733.59,157.49 734.11,157.74 734.64,158.00 735.16,158.25 735.68,158.50 736.21,158.75 736.73,159.00 737.25,159.25 737.78,159.50 738.30,159.75 738.83,160.00 739.35,160.25 739.87,160.50 740.40,160.75 740.92,161.00 741.44,161.24 741.97,161.49 742.49,161.74 743.01,161.98 743.54,162.23 744.06,162.48 744.58,162.72 745.11,162.97 745.63,163.21 746.15,163.45 746.68,163.70 747.20,163.94 747.72,164.18 748.25,164.42 748.77,164.67 749.29,164.91 749.82,165.15 750.34,165.38 750.86,165.62 751.39,165.86 751.91,166.10 752.43,166.33 752.96,166.57 753.48,166.80 754.00,167.04 754.53,167.27 755.05,167.50 755.57,167.74 756.10,167.97 756.62,168.20 757.14,168.43 757.67,168.65 758.19,168.88 758.71,169.11 759.24,169.33 759.76,169.55 760.28,169.78 760.81,170.00 761.33,170.22 761.85,170.44 762.38,170.66 762.90,170.88 763.42,171.09 763.95,171.31 764.47,171.52 764.99,171.73 765.52,171.94 766.04,172.15 766.56,172.36 767.09,172.57 767.61,172.78 768.13,172.98 768.66,173.18 769.18,173.38 769.70,173.58 770.23,173.78 770.75,173.98 771.27,174.17 771.80,174.37 772.32,174.56 772.84,174.75 773.37,174.94 773.89,175.13 774.41,175.31 774.94,175.49 775.46,175.68 775.98,175.86 776.51,176.03 777.03,176.21 777.55,176.38 778.08,176.56 778.60,176.73 779.12,176.90 779.65,177.06 780.17,177.23 780.69,177.39 781.22,177.55 781.74,177.71 782.26,177.86 782.79,178.02 783.31,178.17 783.83,178.32 784.36,178.47 784.88,178.61 785.40,178.76 785.93,178.90 786.45,179.03 786.97,179.17 787.50,179.30 788.02,179.44 788.54,179.56 789.07,179.69 789.59,179.82 790.11,179.94 790.64,180.06 791.16,180.17 791.68,180.29 792.21,180.40 792.73,180.51 793.25,180.61 793.78,180.72 794.30,180.82 794.82,180.92 795.35,181.01 795.87,181.11 796.39,181.20 796.92,181.28 797.44,181.37 797.96,181.45 798.49,181.53 799.01,181.61 799.53,181.68 800.06,181.75 800.58,181.82 801.10,181.89 801.63,181.95 802.15,182.01 802.67,182.07 803.20,182.12 803.72,182.17 804.24,182.22 804.77,182.27 805.29,182.31 805.81,182.35 806.34,182.39 806.86,182.42 807.38,182.45 807.91,182.48 808.43,182.51 808.95,182.53 809.48,182.55 810.00,182.56 810.52,182.58 811.05,182.59 811.57,182.59 812.09,182.60 812.62,182.60" fill="none" stroke="#00aa0a" stroke-width="1.4" stroke-linejoin="round" />
<polyline points="603.80,142.37 606.23,142.38 607.24,142.32 608.01,142.27 608.66,142.21 609.23,142.17 609.74,142.13 610.22,142.09 610.66,142.06 611.07,142.04 611.46,142.02 611.83,142.00 612.18,141.99 612.52,141.98 612.85,141.98 613.16,141.98 613.46,141.99 613.75,141.99 614.04,142.00 614.31,142.02 614.58,142.03 614.84,142.05 615.10,142.08 615.35,142.10 615.59,142.13 615.83,142.15 616.06,142.19 616.29,142.22 616.51,142.25 616.73,142.29 616.94,142.33 617.16,142.37 617.36,142.41 617.57,142.45 617.77,142.50 617.96,142.54 618.16,142.59 618.35,142.64 618.54,142.69 618.72,142.74 618.91,142.79 619.09,142.85 619.27,142.90 619.44,142.96 619.61,143.01 619.79,143.07 619.95,143.13 620.12,143.19 620.29,143.25 620.45,143.31 620.61,143.37 620.77,143.43 620.93,143.49 621.08,143.55 621.24,143.62 621.39,143.68 621.54,143.75 621.69,143.81 621.84,143.88 621.98,143.94 622.13,144.01 622.27,144.08 622.41,144.15 622.55,144.21 622.69,144.28 622.83,144.35 622.97,144.42 623.10,144.49 623.23,144.56 623.37,144.63 623.50,144.70 623.63,144.77 623.76,144.84 623.89,144.91 624.01,144.98 624.14,145.05 624.27,145.12 624.39,145.19 624.51,145.27 624.63,145.34 624.76,145.41 624.88,145.48 624.99,145.55 625.11,145.62 625.23,145.70 625.35,145.77 625.46,145.84 625.58,145.91 625.69,145.99 625.80,146.06 625.92,146.13 626.03,146.20 626.14,146.28 626.25,146.35 626.36,146.42 626.46,146.49 626.57,146.57 626.68,146.64 626.78,146.71 626.89,146.78 626.99,146.86 627.10,146.93 627.20,147.00 627.30,147.07 627.40,147.15 627.51,147.22 627.61,147.29 627.71,147.36 627.80,147.43 627.90,147.51 628.00,147.58 628.10,147.65 628.19,147.72 628.29,147.79 628.39,147.87 628.48,147.94 628.57,148.01 628.67,148.08 628.76,148.15 628.85,148.22 628.95,148.30 629.04,148.37 629.13,148.44 629.22,148.51 629.31,148.58 629.40,148.65 629.48,148.72 629.57,148.79 629.66,148.86 629.75,148.93 629.83,149.01 629.92,149.08 630.01,149.15 630.09,149.22 630.17,149.29 630.26,149.36 630.34,149.43 630.43,149.50 630.51,149.57 630.59,149.64 630.67,149.71 630.75,149.78 630.83,149.85 630.91,149.92 630.99,149.99 631.07,150.06 631.15,150.13 631.23,150.19 631.31,150.26 631.39,150.33 631.46,150.40 631.54,150.47 631.62,150.54 631.69,150.61 631.77,150.68 631.84,150.75 631.92,150.82 631.99,150.89 632.07,150.95 632.14,151.02 632.21,151.09 632.29,151.16 632.36,151.23 632.43,151.30 632.50,151.37 632.57,151.43 632.64,151.50 632.71,151.57 632.78,151.64 632.85,151.71 632.92,151.78 632.99,151.85 633.06,151.91 633.13,151.98 633.20,152.05 633.26,152.12 633.33,152.19 633.40,152.26 633.47,152.32 633.53,152.39 633.60,152.46 633.66,152.53 633.73,152.60 633.79,152.67 633.86,152.73 633.92,152.80 633.99,152.87 634.05,152.94 634.11,153.01 634.17,153.08 634.24,153.15 634.30,153.21 634.36,153.28 634.42,153.35 634.48,153.42 634.55,153.49 634.61,153.56 634.67,153.63 634.73,153.70 634.79,153.76 634.85,153.83 634.90,153.90 634.96,153.97 635.02,154.04 635.08,154.11 635.14,154.18 635.20,154.25 635.25,154.32 635.31,154.39 635.37,154.46 635.42,154.53 635.48,154.60 635.53,154.67 635.59,154.74 635.65,154.81 635.70,154.88 635.76,154.95 635.81,155.02 635.86,155.09 635.92,155.16 635.97,155.23 636.02,155.30 636.08,155.37 636.13,155.44 636.18,155.51 636.24,155.58 636.29,155.66 636.34,155.73 636.39,155.80 636.44,155.87 636.49,155.94 636.54,156.01 636.59,156.09 636.64,156.16 636.69,156.23 636.74,156.30 636.79,156.38 636.84,156.45 636.89,156.52 636.94,156.59 636.99,156.67 637.04,156.74 637.08,156.81 637.13,156.89 637.18,156.96 637.23,157.04 637.27,157.11 637.32,157.18 637.37,157.26 637.41,157.33 637.46,157.41 637.50,157.48 637.55,157.56 637.59,157.63 637.64,157.71 637.68,157.79 637.73,157.86 637.77,157.94 637.82,158.01 637.86,158.09 637.90,158.17 637.95,158.24 637.99,158.32 638.03,158.40 638.08,158.48 638.12,158.55 638.16,158.63 638.20,158.71 638.24,158.79 638.29,158.87 638.33,158.94 638.37,159.02 638.41,159.10 638.45,159.18 638.49,159.26 638.53,159.34 638.57,159.42 638.61,159.50 638.65,159.58 638.69,159.66 638.73,159.74 638.77,159.82 638.81,159.90 638.84,159.99 638.88,160.07 638.92,160.15 638.96,160.23 639.00,160.31 639.03,160.40 639.07,160.48 639.11,160.56 639.14,160.64 639.18,160.73 639.22,160.81 639.25,160.90 639.29,160.98 639.32,161.06 639.36,161.15 639.39,161.23 639.43,161.32 639.46,161.40 639.50,161.49 639.53,161.58 639.57,161.66 639.60,161.75 639.64,161.83 639.67,161.92 639.70,162.01 639.74,162.10 639.77,162.18 639.80,162.27 639.83,162.36 639.87,162.45 639.90,162.54 639.93,162.62 639.96,162.71 639.99,162.80 640.03,162.89 640.06,162.98 640.09,163.07 640.12,163.16 640.15,163.25 640.18,163.34 640.21,163.43 640.24,163.52 640.27,163.62 640.30,163.71 640.33,163.80 640.36,163.89 640.39,163.98 640.42,164.08 640.45,164.17 640.47,164.26 640.50,164.36 640.53,164.45 640.56,164.54 640.59,164.64 640.61,164.73 640.64,164.83 640.67,164.92 640.69,165.02 640.72,165.11 640.75,165.21 640.77,165.30 640.80,165.40 640.83,165.50 640.85,165.59 640.88,165.69 640.90,165.79 640.93,165.88 640.95,165.98 640.98,166.08 641.00,166.18 641.03,166.28 641.05,166.37 641.08,166.47 641.10,166.57 641.13,166.67 641.15,166.77 641.17,166.87 641.20,166.97 641.22,167.07 641.24,167.17 641.27,167.27 641.29,167.37 641.31,167.47 641.33,167.57 641.35,167.68 641.38,167.78 641.40,167.88 641.42,167.98 641.44,168.09 641.46,168.19 641.48,168.29 641.50,168.39 641.52,168.50 641.55,168.60 641.57,168.71 641.59,168.81 641.61,168.91 641.63,169.02 641.65,169.12 641.66,169.23 641.68,169.33 641.70,169.44 641.72,169.54 641.74,169.65 641.76,169.76 641.78,169.86 641.80,169.97 641.81,170.08 641.83,170.18 641.85,170.29 641.87,170.40 641.88,170.50 641.90,170.61 641.92,170.72 641.94,170.83 641.95,170.94 641.97,171.05 641.99,171.15 642.00,171.26 642.02,171.37 642.03,171.48 642.05,171.59 642.06,171.70 642.08,171.81 642.09,171.92 642.11,172.03 642.12,172.14 642.14,172.25 642.15,172.36 642.17,172.47 642.18,172.59 642.20,172.70 642.21,172.81 642.22,172.92 642.24,173.03 642.25,173.14 642.26,173.26 642.28,173.37 642.29,173.48 643.10,182.60 812.62,182.60" fill="none" stroke="#ffa500" stroke-width="1.4" stroke-linejoin="round" />
<polyline points="603.80,142.27 604.32,142.31 604.85,142.34 605.37,142.38 605.89,142.42 606.42,142.45 606.94,142.49 607.46,142.53 607.99,142.57 608.51,142.61 609.03,142.64 609.56,142.68 610.08,142.72 610.60,142.76 611.13,142.80 611.65,142.84 612.17,142.89 612.70,142.93 613.22,142.97 613.74,143.01 614.27,143.06 614.79,143.10 615.31,143.15 615.84,143.19 616.36,143.24 616.88,143.29 617.41,143.33 617.93,143.38 618.45,143.43 618.98,143.48 619.50,143.53 620.02,143.58 620.55,143.63 621.07,143.68 621.59,143.74 622.12,143.79 622.64,143.84 623.16,143.90 623.69,143.95 624.21,144.01 624.73,144.07 625.26,144.13 625.78,144.18 626.30,144.24 626.83,144.31 627.35,144.37 627.87,144.43 628.40,144.49 628.92,144.56 629.44,144.62 629.97,144.69 630.49,144.75 631.01,144.82 631.54,144.89 632.06,144.96 632.58,145.03 633.11,145.10 633.63,145.17 634.15,145.24 634.68,145.31 635.20,145.39 635.72,145.46 636.25,145.54 636.77,145.62 637.29,145.69 637.82,145.77 638.34,145.85 638.86,145.93 639.39,146.01 639.91,146.10 640.43,146.18 640.96,146.26 641.48,146.35 642.00,146.43 642.53,146.52 643.05,146.61 643.57,146.69 644.10,146.78 644.62,146.87 645.14,146.96 645.67,147.06 646.19,147.15 646.71,147.24 647.24,147.34 647.76,147.43 648.28,147.53 648.81,147.62 649.33,147.72 649.86,147.82 650.38,147.92 650.90,148.02 651.43,148.12 651.95,148.22 652.47,148.32 653.00,148.42 653.52,148.53 654.04,148.63 654.57,148.74 655.09,148.84 655.61,148.95 656.14,149.06 656.66,149.17 657.18,149.27 657.71,149.38 658.23,149.49 658.75,149.61 659.28,149.72 659.80,149.83 660.32,149.94 660.85,150.06 661.37,150.17 661.89,150.28 662.42,150.40 662.94,150.52 663.46,150.63 663.99,150.75 664.51,150.87 665.03,150.99 665.56,151.10 666.08,151.22 666.60,151.34 667.13,151.46 667.65,151.59 668.17,151.71 668.70,151.83 669.22,151.95 669.74,152.07 670.27,152.20 670.79,152.32 671.31,152.45 671.84,152.57 672.36,152.70 672.88,152.82 673.41,152.95 673.93,153.08 674.45,153.20 674.98,153.33 675.50,153.46 676.02,153.59 676.55,153.71 677.07,153.84 677.59,153.97 678.12,154.10 678.64,154.23 679.16,154.36 679.69,154.49 680.21,154.62 680.73,154.76 681.26,154.89 681.78,155.02 682.30,155.15 682.83,155.28 683.35,155.42 683.87,155.55 684.40,155.68 684.92,155.82 685.44,155.95 685.97,156.08 686.49,156.22 687.01,156.35 687.54,156.49 688.06,156.62 688.58,156.76 689.11,156.89 689.63,157.03 690.15,157.16 690.68,157.30 691.20,157.44 691.72,157.57 692.25,157.71 692.77,157.84 693.29,157.98 693.82,158.12 694.34,158.25 694.86,158.39 695.39,158.53 695.91,158.67 696.43,158.80 696.96,158.94 697.48,159.08 698.00,159.22 698.53,159.35 699.05,159.49 699.57,159.63 700.10,159.77 700.62,159.91 701.14,160.05 701.67,160.18 702.19,160.32 702.71,160.46 703.24,160.60 703.76,160.74 704.28,160.88 704.81,161.02 705.33,161.16 705.85,161.29 706.38,161.43 706.90,161.57 707.42,161.71 707.95,161.85 708.47,161.99 708.99,162.13 709.52,162.27 710.04,162.41 710.56,162.55 711.09,162.69 711.61,162.83 712.13,162.97 712.66,163.11 713.18,163.25 713.70,163.39 714.23,163.53 714.75,163.67 715.27,163.81 715.80,163.95 716.32,164.09 716.84,164.23 717.37,164.37 717.89,164.51 718.41,164.65 718.94,164.79 719.46,164.93 719.98,165.07 720.51,165.20 721.03,165.34 721.55,165.48 722.08,165.62 722.60,165.76 723.12,165.90 723.65,166.04 724.17,166.18 724.69,166.32 725.22,166.46 725.74,166.60 726.26,166.74 726.79,166.88 727.31,167.02 727.83,167.16 728.36,167.30 728.88,167.44 729.40,167.58 729.93,167.72 730.45,167.86 730.97,168.00 731.50,168.14 732.02,168.28 732.54,168.42 733.07,168.55 733.59,168.69 734.11,168.83 734.64,168.97 735.16,169.11 735.68,169.25 736.21,169.39 736.73,169.52 737.25,169.66 737.78,169.80 738.30,169.94 738.83,170.07 739.35,170.21 739.87,170.35 740.40,170.49 740.92,170.62 741.44,170.76 741.97,170.90 742.49,171.03 743.01,171.17 743.54,171.30 744.06,171.44 744.58,171.58 745.11,171.71 745.63,171.85 746.15,171.98 746.68,172.11 747.20,172.25 747.72,172.38 748.25,172.52 748.77,172.65 749.29,172.78 749.82,172.91 750.34,173.05 750.86,173.18 751.39,173.31 751.91,173.44 752.43,173.57 752.96,173.70 753.48,173.83 754.00,173.96 754.53,174.09 755.05,174.22 755.57,174.35 756.10,174.47 756.62,174.60 757.14,174.73 757.67,174.85 758.19,174.98 758.71,175.11 759.24,175.23 759.76,175.35 760.28,175.48 760.81,175.60 761.33,175.72 761.85,175.84 762.38,175.97 762.90,176.09 763.42,176.21 763.95,176.33 764.47,176.44 764.99,176.56 765.52,176.68 766.04,176.80 766.56,176.91 767.09,177.03 767.61,177.14 768.13,177.25 768.66,177.37 769.18,177.48 769.70,177.59 770.23,177.70 770.75,177.81 771.27,177.92 771.80,178.02 772.32,178.13 772.84,178.24 773.37,178.34 773.89,178.44 774.41,178.55 774.94,178.65 775.46,178.75 775.98,178.85 776.51,178.95 777.03,179.05 777.55,179.14 778.08,179.24 778.60,179.33 779.12,179.43 779.65,179.52 780.17,179.61 780.69,179.70 781.22,179.79 781.74,179.88 782.26,179.97 782.79,180.05 783.31,180.14 783.83,180.22 784.36,180.30 784.88,180.38 785.40,180.46 785.93,180.54 786.45,180.62 786.97,180.69 787.50,180.77 788.02,180.84 788.54,180.91 789.07,180.98 789.59,181.05 790.11,181.12 790.64,181.19 791.16,181.25 791.68,181.31 792.21,181.38 792.73,181.44 793.25,181.50 793.78,181.55 794.30,181.61 794.82,181.66 795.35,181.72 795.87,181.77 796.39,181.82 796.92,181.87 797.44,181.92 797.96,181.96 798.49,182.01 799.01,182.05 799.53,182.09 800.06,182.13 800.58,182.17 801.10,182.20 801.63,182.24 802.15,182.27 802.67,182.30 803.20,182.33 803.72,182.36 804.24,182.39 804.77,182.42 805.29,182.44 805.81,182.46 806.34,182.48 806.86,182.50 807.38,182.52 807.91,182.53 808.43,182.55 808.95,182.56 809.48,182.57 810.00,182.58 810.52,182.59 811.05,182.59 811.57,182.60 812.09,182.60 812.62,182.60" fill="none" stroke="#30f0e0" stroke-width="1.4" stroke-linejoin="round" />
<polyline points="603.80,182.56 604.22,182.61 604.64,182.66 604.74,182.67 605.05,182.74 605.06,182.74 605.37,182.80 605.47,182.82 605.68,182.86 605.89,182.90 606.00,182.92 606.23,182.97 606.31,182.98 606.31,182.98 606.63,183.02 606.73,183.03 606.94,183.05 607.15,183.08 607.24,183.09 607.26,183.09 607.57,183.12 607.57,183.12 607.88,183.15 607.98,183.16 608.01,183.16 608.20,183.18 608.40,183.19 608.51,183.20 608.66,183.21 608.82,183.23 608.83,183.23 609.14,183.25 609.23,183.26 609.24,183.26 609.45,183.27 609.66,183.29 609.74,183.29 609.77,183.29 610.08,183.32 610.08,183.32 610.22,183.33 610.39,183.34 610.50,183.35 610.66,183.36 610.71,183.36 610.91,183.38 611.02,183.39 611.07,183.39 611.33,183.41 611.33,183.41 611.46,183.42 611.65,183.44 611.75,183.45 611.83,183.46 611.96,183.47 612.17,183.49 612.18,183.49 612.27,183.50 612.52,183.52 612.59,183.53 612.59,183.53 612.85,183.56 612.90,183.57 613.01,183.58 613.16,183.60 613.21,183.60 613.42,183.63 613.46,183.64 613.53,183.64 613.75,183.68 613.84,183.69 613.84,183.69 614.04,183.72 614.15,183.73 614.26,183.75 614.31,183.76 614.46,183.78 614.58,183.80 614.68,183.82 614.78,183.84 614.84,183.85 615.09,183.89 615.10,183.90 615.10,183.90 615.35,183.94 615.40,183.96 615.52,183.98 615.59,183.99 615.72,184.02 615.83,184.04 615.94,184.07 616.03,184.09 616.06,184.10 616.29,184.15 616.34,184.16 616.35,184.16 616.51,184.20 616.65,184.24 616.73,184.26 616.77,184.27 616.94,184.31 616.96,184.32 617.16,184.37 617.19,184.38 617.28,184.40 617.36,184.43 617.57,184.49 617.59,184.49 617.61,184.50 617.77,184.55 617.90,184.59 617.96,184.61 618.03,184.63 618.16,184.67 618.21,184.69 618.35,184.73 618.45,184.76 618.52,184.79 618.54,184.79 618.72,184.86 618.84,184.90 618.87,184.91 618.91,184.92 619.09,184.99 619.15,185.01 619.27,185.05 619.28,185.06 619.44,185.12 619.46,185.13 619.61,185.19 619.70,185.22 619.77,185.25 619.79,185.25 619.95,185.32 620.08,185.37 620.12,185.39 620.12,185.39 620.29,185.46 620.40,185.50 620.45,185.53 620.54,185.57 620.61,185.60 620.71,185.64 620.77,185.67 620.93,185.74 620.96,185.75 621.02,185.78 621.08,185.81 621.24,185.88 621.33,185.92 621.38,185.94 621.39,185.95 621.54,186.02 621.64,186.07 621.69,186.09 621.79,186.15 621.84,186.17 621.95,186.22 621.98,186.24 622.13,186.31 622.21,186.36 622.26,186.38 622.27,186.38 622.41,186.46 622.55,186.53 622.58,186.54 622.63,186.57 622.69,186.60 622.83,186.68 622.89,186.71 622.97,186.75 623.05,186.80 623.10,186.83 623.20,186.88 623.23,186.90 623.37,186.97 623.47,187.03 623.50,187.05 623.51,187.05 623.63,187.12 623.76,187.20 623.82,187.23 623.89,187.27 623.89,187.27 624.01,187.35 624.13,187.41 624.14,187.42 624.27,187.49 624.31,187.52 624.39,187.57 624.44,187.60 624.51,187.64 624.63,187.72 624.72,187.77 624.75,187.79 624.76,187.79 624.88,187.87 624.99,187.94 625.06,187.99 625.11,188.02 625.14,188.04 625.23,188.09 625.35,188.17 625.37,188.18 625.46,188.24 625.56,188.30 625.58,188.31 625.69,188.39 625.69,188.39 625.80,188.46 625.92,188.54 625.98,188.58 626.00,188.59 626.03,188.61 626.14,188.69 626.25,188.76 626.31,188.80 626.36,188.83 626.40,188.86 626.46,188.91 626.57,188.98 626.62,189.01 626.68,189.06 626.78,189.13 626.82,189.15 626.89,189.20 626.93,189.23 626.99,189.28 627.10,189.35 627.20,189.42 627.23,189.45 627.24,189.45 627.30,189.50 627.40,189.57 627.51,189.64 627.55,189.67 627.61,189.71 627.65,189.75 627.71,189.79 627.80,189.86 627.86,189.90 627.90,189.93 628.00,190.00 628.07,190.06 628.10,190.08 628.17,190.13 628.19,190.15 628.29,190.22 628.39,190.29 628.48,190.36 628.48,190.36 628.49,190.37 628.57,190.43 628.67,190.51 628.76,190.58 628.79,190.60 628.85,190.65 628.91,190.69 628.95,190.72 629.04,190.79 629.10,190.84 629.13,190.86 629.22,190.93 629.31,191.00 629.33,191.02 629.40,191.07 629.41,191.09 629.48,191.14 629.57,191.21 629.66,191.28 629.72,191.33 629.75,191.35 629.75,191.35 629.83,191.42 629.92,191.49 630.01,191.56 630.03,191.59 630.09,191.63 630.16,191.69 630.17,191.70 630.26,191.77 630.34,191.84 630.34,191.84 630.43,191.91 630.51,191.98 630.58,192.04 630.59,192.05 630.65,192.10 630.67,192.12 630.75,192.19 630.83,192.25 630.91,192.32 630.96,192.36 630.99,192.39 631.00,192.40 631.07,192.46 631.15,192.53 631.23,192.60 631.27,192.63 631.31,192.66 631.39,192.73 631.42,192.76 631.46,192.80 631.54,192.87 631.58,192.91 631.62,192.94 631.69,193.00 631.77,193.07 631.84,193.13 631.84,193.14 631.89,193.18 631.92,193.21 631.99,193.27 632.07,193.34 632.14,193.41 632.20,193.47 632.21,193.48 632.26,193.51 632.29,193.54 632.36,193.61 632.43,193.68 632.50,193.74 632.51,193.75 632.57,193.81 632.64,193.88 632.67,193.91 632.71,193.94 632.78,194.01 632.82,194.05 632.85,194.08 632.92,194.14 632.99,194.21 633.06,194.28 633.09,194.31 633.13,194.34 633.13,194.35 633.20,194.41 633.26,194.48 633.33,194.54 633.40,194.61 633.44,194.65 633.47,194.68 633.51,194.72 633.53,194.74 633.60,194.81 633.66,194.88 633.73,194.94 633.75,194.97 633.79,195.01 633.86,195.08 633.92,195.14 633.93,195.15 633.99,195.21 634.05,195.28 634.06,195.29 634.11,195.34 634.17,195.41 634.24,195.48 634.30,195.54 634.35,195.59 634.36,195.61 634.37,195.62 634.42,195.68 634.48,195.74 634.55,195.81 634.61,195.88 634.67,195.94 634.68,195.96 634.73,196.01 634.77,196.05 634.79,196.08 634.85,196.14 634.90,196.21 634.96,196.28 634.99,196.31 635.02,196.34 635.08,196.41 635.14,196.48 635.19,196.53 635.20,196.55 635.25,196.61 635.30,196.67 635.31,196.68 635.37,196.75 635.42,196.82 635.48,196.88 635.53,196.95 635.59,197.02 635.60,197.04 635.61,197.04 635.65,197.09 635.70,197.15 635.76,197.22 635.81,197.29 635.86,197.36 635.92,197.43 635.92,197.43 635.97,197.50 636.02,197.56 636.02,197.57 636.08,197.63 636.13,197.70 636.18,197.77 636.23,197.83 636.24,197.84 636.29,197.91 636.34,197.98 636.39,198.05 636.44,198.12 636.44,198.12 636.49,198.19 636.54,198.25 636.54,198.26 636.59,198.33 636.64,198.40 636.69,198.47 636.74,198.54 636.79,198.61 636.84,198.68 636.85,198.69 636.86,198.70 636.89,198.75 636.94,198.82 636.99,198.89 637.04,198.96 637.08,199.03 637.13,199.11 637.16,199.14 637.18,199.18 637.23,199.25 637.27,199.32 637.28,199.33 637.32,199.39 637.37,199.47 637.41,199.54 637.46,199.61 637.47,199.62 637.50,199.68 637.55,199.76 637.59,199.83 637.64,199.90 637.68,199.98 637.70,200.00 637.73,200.05 637.77,200.13 637.78,200.13 637.82,200.20 637.86,200.27 637.90,200.35 637.95,200.42 637.99,200.50 638.03,200.57 638.08,200.65 638.09,200.66 638.11,200.72 638.12,200.72 638.16,200.80 638.20,200.88 638.24,200.95 638.29,201.03 638.33,201.10 638.37,201.18 638.39,201.23 638.41,201.26 638.45,201.34 638.49,201.41 638.53,201.49 638.53,201.50 638.57,201.57 638.61,201.65 638.65,201.72 638.69,201.80 638.70,201.83 638.73,201.88 638.77,201.96 638.81,202.04 638.84,202.12 638.88,202.20 638.92,202.28 638.95,202.35 638.96,202.36 639.00,202.44 639.01,202.48 639.03,202.52 639.07,202.60 639.11,202.68 639.14,202.76 639.18,202.84 639.22,202.93 639.25,203.01 639.29,203.09 639.32,203.17 639.32,203.17 639.36,203.25 639.37,203.28 639.39,203.34 639.43,203.42 639.46,203.50 639.50,203.59 639.53,203.67 639.57,203.76 639.60,203.84 639.63,203.92 639.64,203.92 639.67,204.01 639.70,204.09 639.74,204.18 639.77,204.27 639.79,204.32 639.80,204.35 639.83,204.44 639.87,204.52 639.90,204.61 639.93,204.70 639.94,204.73 639.96,204.78 639.99,204.87 640.03,204.96 640.06,205.05 640.09,205.14 640.12,205.22 640.15,205.31 640.18,205.40 640.21,205.48 640.21,205.49 640.24,205.58 640.25,205.61 640.27,205.67 640.30,205.76 640.33,205.85 640.36,205.94 640.39,206.03 640.42,206.12 640.45,206.21 640.47,206.30 640.50,206.40 640.53,206.49 640.56,206.58 640.56,206.59 640.59,206.67 640.61,206.77 640.63,206.81 640.64,206.86 640.67,206.95 640.69,207.04 640.72,207.14 640.75,207.23 640.77,207.33 640.80,207.42 640.83,207.52 640.85,207.61 640.87,207.67 640.88,207.71 640.90,207.80 640.93,207.90 640.95,207.99 640.98,208.09 641.00,208.19 641.03,208.28 641.04,208.34 641.05,208.38 641.08,208.48 641.10,208.58 641.13,208.67 641.15,208.77 641.17,208.87 641.18,208.89 641.20,208.97 641.22,209.07 641.24,209.17 641.27,209.26 641.29,209.36 641.31,209.46 641.33,209.56 641.35,209.66 641.38,209.76 641.40,209.87 641.42,209.97 641.44,210.07 641.46,210.17 641.46,210.17 641.48,210.27 641.49,210.29 641.50,210.37 641.52,210.47 641.55,210.58 641.57,210.68 641.59,210.78 641.61,210.89 641.63,210.99 641.65,211.09 641.66,211.20 641.68,211.30 641.70,211.40 641.72,211.51 641.74,211.61 641.76,211.72 641.78,211.82 641.80,211.93 641.80,211.93 641.81,212.03 641.83,212.14 641.85,212.25 641.87,212.35 641.88,212.44 641.88,212.46 641.90,212.57 641.92,212.67 641.94,212.78 641.95,212.89 641.97,212.99 641.99,213.10 642.00,213.21 642.02,213.32 642.03,213.43 642.05,213.53 642.06,213.64 642.08,213.75 642.09,213.86 642.11,213.94 642.11,213.97 642.12,214.08 642.14,214.19 642.15,214.30 642.17,214.41 642.18,214.52 642.20,214.63 642.21,214.74 642.22,214.85 642.24,214.96 642.25,215.07 642.26,215.18 642.28,215.30 642.29,215.41 642.30,215.52 642.41,216.81 642.72,220.20 642.72,220.26 643.03,223.72 643.10,224.47 643.10,224.47 643.14,224.47 643.34,224.46 643.55,224.44 643.65,224.43 643.96,224.41 643.97,224.41 644.27,224.39 644.39,224.38 644.58,224.37 644.81,224.35 644.89,224.34 645.19,224.32 645.23,224.32 645.50,224.29 645.65,224.28 645.81,224.27 646.07,224.25 646.12,224.25 646.43,224.22 646.48,224.22 646.74,224.19 646.90,224.18 647.05,224.17 647.32,224.15 647.36,224.14 647.67,224.12 647.74,224.11 647.97,224.09 648.16,224.07 648.28,224.06 648.58,224.04 648.59,224.04 648.90,224.01 649.00,224.00 649.21,223.98 649.41,223.96 649.52,223.95 649.83,223.93 649.83,223.92 650.14,223.90 650.25,223.89 650.44,223.87 650.67,223.85 650.75,223.84 651.06,223.81 651.09,223.81 651.37,223.78 651.51,223.77 651.68,223.75 651.92,223.73 651.99,223.72 652.30,223.69 652.34,223.68 652.60,223.66 652.76,223.64 652.91,223.63 653.18,223.60 653.22,223.60 653.53,223.56 653.60,223.56 653.84,223.53 654.02,223.51 654.15,223.50 654.44,223.47 654.46,223.47 654.76,223.43 654.85,223.42 655.07,223.40 655.27,223.38 655.38,223.37 655.69,223.33 655.69,223.33 656.00,223.30 656.11,223.28 656.30,223.26 656.53,223.24 656.61,223.23 656.92,223.19 656.95,223.19 657.22,223.15 657.36,223.14 657.53,223.12 657.78,223.09 657.84,223.08 658.15,223.04 658.20,223.04 658.45,223.00 658.62,222.98 658.76,222.97 659.04,222.93 659.07,222.93 659.37,222.89 659.46,222.88 659.68,222.85 659.88,222.82 659.98,222.81 660.29,222.77 660.29,222.77 660.59,222.73 660.71,222.71 660.90,222.68 661.13,222.65 661.20,222.64 661.51,222.60 661.55,222.59 661.81,222.56 661.97,222.53 662.12,222.51 662.39,222.47 662.42,222.47 662.72,222.42 662.80,222.41 663.03,222.38 663.22,222.35 663.33,222.33 663.63,222.28 663.64,222.28 663.93,222.24 664.06,222.22 664.24,222.19 664.48,222.15 664.54,222.14 664.84,222.09 664.90,222.08 665.14,222.04 665.32,222.01 665.44,221.99 665.73,221.94 665.74,221.94 666.04,221.89 666.15,221.87 666.34,221.84 666.57,221.80 666.64,221.78 666.94,221.73 666.99,221.72 667.24,221.68 667.41,221.64 667.54,221.62 667.83,221.57 667.84,221.57 668.13,221.51 668.24,221.49 668.43,221.45 668.66,221.41 668.73,221.39 669.02,221.34 669.08,221.32 669.32,221.28 669.50,221.24 669.62,221.22 669.91,221.16 669.92,221.15 670.21,221.09 670.34,221.07 670.50,221.03 670.76,220.98 670.79,220.97 671.09,220.90 671.17,220.88 671.38,220.84 671.59,220.79 671.67,220.77 671.96,220.71 672.01,220.70 672.26,220.64 672.43,220.60 672.55,220.57 672.84,220.50 672.85,220.50 673.13,220.43 673.27,220.40 673.42,220.36 673.68,220.30 673.70,220.29 673.99,220.22 674.10,220.19 674.28,220.15 674.52,220.08 674.57,220.07 674.85,220.00 674.94,219.97 675.14,219.92 675.36,219.86 675.43,219.84 675.71,219.77 675.78,219.75 676.00,219.69 676.20,219.63 676.28,219.61 676.56,219.53 676.61,219.51 676.85,219.44 677.03,219.39 677.13,219.36 677.41,219.28 677.45,219.27 677.69,219.19 677.87,219.14 677.97,219.11 678.25,219.02 678.29,219.01 678.53,218.93 678.71,218.88 678.81,218.84 679.08,218.75 679.13,218.74 679.36,218.66 679.54,218.60 679.64,218.57 679.91,218.48 679.96,218.46 680.19,218.38 680.38,218.32 680.46,218.29 680.74,218.19 680.80,218.17 681.01,218.10 681.22,218.02 681.28,218.00 681.55,217.90 681.64,217.87 681.82,217.80 682.05,217.71 682.09,217.69 682.36,217.59 682.47,217.55 682.63,217.49 682.89,217.38 682.90,217.38 683.16,217.28 683.31,217.22 683.43,217.17 683.70,217.06 683.73,217.05 683.96,216.95 684.15,216.87 684.22,216.84 684.49,216.72 684.57,216.69 684.75,216.61 684.98,216.51 685.01,216.50 685.27,216.38 685.40,216.32 685.53,216.26 685.79,216.14 685.82,216.13 686.05,216.02 686.24,215.93 686.30,215.90 686.56,215.78 686.66,215.73 686.82,215.66 687.07,215.53 687.08,215.53 687.32,215.40 687.49,215.32 687.58,215.28 687.83,215.15 687.91,215.10 688.08,215.02 688.33,214.88 688.33,214.88 688.58,214.75 688.75,214.66 688.83,214.62 689.08,214.48 689.17,214.43 689.32,214.34 689.57,214.20 689.59,214.19 689.81,214.06 690.01,213.95 690.06,213.92 690.30,213.78 690.42,213.71 690.54,213.64 690.78,213.49 690.84,213.45 691.02,213.34 691.26,213.20 691.26,213.19 691.50,213.05 691.68,212.93 691.73,212.90 691.97,212.74 692.10,212.66 692.20,212.59 692.43,212.43 692.52,212.38 692.67,212.28 692.90,212.12 692.93,212.09 693.13,211.96 693.35,211.80 693.35,211.80 693.58,211.64 693.77,211.50 693.81,211.47 694.03,211.31 694.19,211.19 694.26,211.14 694.48,210.97 694.61,210.87 694.70,210.80 694.92,210.63 695.03,210.55 695.14,210.46 695.36,210.29 695.45,210.22 695.57,210.11 695.79,209.94 695.86,209.87 696.00,209.76 696.21,209.58 696.28,209.52 696.42,209.40 696.63,209.21 696.70,209.16 696.84,209.03 697.05,208.85 697.12,208.78 697.25,208.66 697.46,208.47 697.54,208.40 697.66,208.28 697.86,208.09 697.96,208.00 698.06,207.90 698.26,207.70 698.37,207.59 698.46,207.51 698.66,207.31 698.79,207.17 698.85,207.11 699.04,206.91 699.21,206.73 699.23,206.71 699.42,206.50 699.61,206.30 699.63,206.28 699.80,206.09 699.98,205.88 700.05,205.81 700.17,205.67 700.35,205.46 700.47,205.33 700.53,205.25 700.71,205.04 700.89,204.82 700.89,204.82 701.06,204.60 701.24,204.38 701.30,204.30 701.41,204.16 701.58,203.94 701.72,203.76 701.75,203.72 701.92,203.49 702.09,203.27 702.14,203.19 702.25,203.04 702.41,202.81 702.56,202.60 702.57,202.58 702.73,202.34 702.89,202.11 702.98,201.98 703.05,201.87 703.20,201.64 703.35,201.40 703.40,201.33 703.50,201.16 703.65,200.91 703.80,200.67 703.81,200.64 703.94,200.42 704.09,200.18 704.23,199.93 704.23,199.92 704.37,199.68 704.51,199.42 704.64,199.17 704.65,199.15 704.78,198.91 704.91,198.66 705.04,198.40 705.07,198.34 705.17,198.14 705.30,197.88 705.42,197.61 705.49,197.47 705.54,197.35 705.66,197.08 705.78,196.81 705.90,196.54 705.91,196.52 706.01,196.27 706.13,196.00 706.24,195.72 706.33,195.50 706.35,195.45 706.45,195.17 706.56,194.89 706.66,194.61 706.74,194.37 706.76,194.32 706.86,194.04 706.96,193.75 707.05,193.46 707.14,193.17 707.16,193.11 707.23,192.88 707.32,192.59 707.41,192.29 707.49,191.99 707.57,191.70 707.58,191.66 707.65,191.40 707.73,191.09 707.80,190.79 707.88,190.48 707.95,190.18 708.00,189.93 708.01,189.87 708.08,189.56 708.14,189.25 708.20,188.93 708.26,188.62 708.32,188.30 708.42,187.01 708.84,181.51 709.26,176.01 709.67,170.51 710.00,166.22 710.00,166.22 710.09,166.24 710.51,166.33 710.93,166.42 711.35,166.52 711.77,166.61 712.18,166.70 712.60,166.79 713.02,166.89 713.44,166.98 713.86,167.07 714.28,167.16 714.70,167.25 715.11,167.35 715.53,167.44 715.95,167.53 716.37,167.62 716.79,167.72 717.21,167.81 717.62,167.90 718.04,167.99 718.46,168.08 718.88,168.18 719.30,168.27 719.72,168.36 720.14,168.45 720.55,168.55 720.97,168.64 721.39,168.73 721.81,168.82 722.23,168.91 722.65,169.01 723.06,169.10 723.48,169.19 723.90,169.28 724.32,169.37 724.74,169.47 725.16,169.56 725.58,169.65 725.99,169.74 726.41,169.83 726.83,169.92 727.25,170.02 727.67,170.11 728.09,170.20 728.50,170.29 728.92,170.38 729.34,170.47 729.76,170.57 730.18,170.66 730.60,170.75 731.02,170.84 731.43,170.93 731.85,171.02 732.27,171.11 732.69,171.20 733.11,171.29 733.53,171.38 733.94,171.48 734.36,171.57 734.78,171.66 735.20,171.75 735.62,171.84 736.04,171.93 736.46,172.02 736.87,172.11 737.29,172.20 737.71,172.29 738.13,172.38 738.55,172.47 738.97,172.56 739.39,172.65 739.80,172.74 740.22,172.82 740.64,172.91 741.06,173.00 741.48,173.09 741.90,173.18 742.31,173.27 742.73,173.36 743.15,173.45 743.57,173.53 743.99,173.62 744.41,173.71 744.83,173.80 745.24,173.89 745.66,173.97 746.08,174.06 746.50,174.15 746.92,174.23 747.34,174.32 747.75,174.41 748.17,174.49 748.59,174.58 749.01,174.67 749.43,174.75 749.85,174.84 750.27,174.92 750.68,175.01 751.10,175.09 751.52,175.18 751.94,175.26 752.36,175.35 752.78,175.43 753.19,175.52 753.61,175.60 754.03,175.68 754.45,175.77 754.87,175.85 755.29,175.93 755.71,176.02 756.12,176.10 756.54,176.18 756.96,176.26 757.38,176.34 757.80,176.42 758.22,176.50 758.63,176.59 759.05,176.67 759.47,176.75 759.89,176.83 760.31,176.90 760.73,176.98 761.15,177.06 761.56,177.14 761.98,177.22 762.40,177.30 762.82,177.37 763.24,177.45 763.66,177.53 764.07,177.60 764.49,177.68 764.91,177.76 765.33,177.83 765.75,177.91 766.17,177.98 766.59,178.06 767.00,178.13 767.42,178.20 767.84,178.28 768.26,178.35 768.68,178.42 769.10,178.49 769.52,178.56 769.93,178.63 770.35,178.70 770.77,178.77 771.19,178.84 771.61,178.91 772.03,178.98 772.44,179.05 772.86,179.12 773.28,179.18 773.70,179.25 774.12,179.32 774.54,179.38 774.96,179.45 775.37,179.51 775.79,179.58 776.21,179.64 776.63,179.70 777.05,179.77 777.47,179.83 777.88,179.89 778.30,179.95 778.72,180.01 779.14,180.07 779.56,180.13 779.98,180.19 780.40,180.25 780.81,180.30 781.23,180.36 781.65,180.42 782.07,180.47 782.49,180.53 782.91,180.58 783.32,180.64 783.74,180.69 784.16,180.74 784.58,180.79 785.00,180.84 785.42,180.90 785.84,180.95 786.25,180.99 786.67,181.04 787.09,181.09 787.51,181.14 787.93,181.19 788.35,181.23 788.76,181.28 789.18,181.32 789.60,181.37 790.02,181.41 790.44,181.45 790.86,181.49 791.28,181.53 791.69,181.57 792.11,181.61 792.53,181.65 792.95,181.69 793.37,181.73 793.79,181.77 794.20,181.80 794.62,181.84 795.04,181.87 795.46,181.90 795.88,181.94 796.30,181.97 796.72,182.00 797.13,182.03 797.55,182.06 797.97,182.09 798.39,182.12 798.81,182.15 799.23,182.17 799.65,182.20 800.06,182.22 800.48,182.25 800.90,182.27 801.32,182.30 801.74,182.32 802.16,182.34 802.57,182.36 802.99,182.38 803.41,182.40 803.83,182.42 804.25,182.43 804.67,182.45 805.09,182.46 805.50,182.48 805.92,182.49 806.34,182.51 806.76,182.52 807.18,182.53 807.60,182.54 808.01,182.55 808.43,182.56 808.85,182.57 809.27,182.57 809.69,182.58 810.11,182.58 810.53,182.59 810.94,182.59 811.36,182.60 811.78,182.60 812.20,182.60 812.62,182.60" fill="none" stroke="#ff0000" stroke-width="1.3" stroke-dasharray="4.1 3.2" stroke-linejoin="round" />
<rect x="45.20" y="89.00" width="213.10" height="142.30" fill="none" stroke="#303030" stroke-width="1.75"/>
<line x1="45.20" y1="213.51" x2="47.70" y2="213.51" stroke="#303030" stroke-width="0.9"/>
<text x="42.80" y="217.51" text-anchor="end" class="tk" style="font-size:8.45px">0.000</text>
<line x1="45.20" y1="177.94" x2="47.70" y2="177.94" stroke="#303030" stroke-width="0.9"/>
<text x="42.80" y="181.94" text-anchor="end" class="tk" style="font-size:8.45px">0.010</text>
<line x1="45.20" y1="142.36" x2="47.70" y2="142.36" stroke="#303030" stroke-width="0.9"/>
<text x="42.80" y="146.36" text-anchor="end" class="tk" style="font-size:8.45px">0.020</text>
<line x1="45.20" y1="106.79" x2="47.70" y2="106.79" stroke="#303030" stroke-width="0.9"/>
<text x="42.80" y="110.79" text-anchor="end" class="tk" style="font-size:8.45px">0.030</text>
<line x1="45.20" y1="231.30" x2="46.70" y2="231.30" stroke="#303030" stroke-width="0.8"/>
<line x1="45.20" y1="195.73" x2="46.70" y2="195.73" stroke="#303030" stroke-width="0.8"/>
<line x1="45.20" y1="160.15" x2="46.70" y2="160.15" stroke="#303030" stroke-width="0.8"/>
<line x1="45.20" y1="124.58" x2="46.70" y2="124.58" stroke="#303030" stroke-width="0.8"/>
<line x1="45.20" y1="89.00" x2="46.70" y2="89.00" stroke="#303030" stroke-width="0.8"/>
<line x1="147.30" y1="231.30" x2="147.30" y2="227.70" stroke="#303030" stroke-width="0.9"/>
<rect x="328.30" y="1.00" width="213.60" height="142.30" fill="none" stroke="#303030" stroke-width="1.75"/>
<line x1="328.30" y1="125.51" x2="330.80" y2="125.51" stroke="#303030" stroke-width="0.9"/>
<text x="325.00" y="128.31" text-anchor="end" class="tk" style="font-size:8.30px">0.000</text>
<line x1="328.30" y1="89.94" x2="330.80" y2="89.94" stroke="#303030" stroke-width="0.9"/>
<text x="325.00" y="92.74" text-anchor="end" class="tk" style="font-size:8.30px">0.010</text>
<line x1="328.30" y1="54.36" x2="330.80" y2="54.36" stroke="#303030" stroke-width="0.9"/>
<text x="325.00" y="57.16" text-anchor="end" class="tk" style="font-size:8.30px">0.020</text>
<line x1="328.30" y1="18.79" x2="330.80" y2="18.79" stroke="#303030" stroke-width="0.9"/>
<text x="325.00" y="22.99" text-anchor="end" class="tk" style="font-size:8.30px">0.030</text>
<line x1="328.30" y1="143.30" x2="329.80" y2="143.30" stroke="#303030" stroke-width="0.8"/>
<line x1="328.30" y1="107.73" x2="329.80" y2="107.73" stroke="#303030" stroke-width="0.8"/>
<line x1="328.30" y1="72.15" x2="329.80" y2="72.15" stroke="#303030" stroke-width="0.8"/>
<line x1="328.30" y1="36.58" x2="329.80" y2="36.58" stroke="#303030" stroke-width="0.8"/>
<line x1="431.00" y1="143.30" x2="431.00" y2="139.70" stroke="#303030" stroke-width="0.9"/>
<rect x="328.30" y="172.70" width="213.50" height="142.80" fill="none" stroke="#303030" stroke-width="1.75"/>
<line x1="328.30" y1="295.10" x2="330.80" y2="295.10" stroke="#303030" stroke-width="0.9"/>
<text x="324.50" y="297.70" text-anchor="end" class="tk" style="font-size:8.40px">0.000</text>
<line x1="328.30" y1="254.30" x2="330.80" y2="254.30" stroke="#303030" stroke-width="0.9"/>
<text x="324.50" y="256.90" text-anchor="end" class="tk" style="font-size:8.40px">0.010</text>
<line x1="328.30" y1="213.50" x2="330.80" y2="213.50" stroke="#303030" stroke-width="0.9"/>
<text x="324.50" y="216.10" text-anchor="end" class="tk" style="font-size:8.40px">0.020</text>
<line x1="328.30" y1="172.70" x2="330.80" y2="172.70" stroke="#303030" stroke-width="0.9"/>
<text x="324.50" y="176.50" text-anchor="end" class="tk" style="font-size:8.40px">0.030</text>
<line x1="328.30" y1="315.50" x2="329.80" y2="315.50" stroke="#303030" stroke-width="0.8"/>
<line x1="328.30" y1="274.70" x2="329.80" y2="274.70" stroke="#303030" stroke-width="0.8"/>
<line x1="328.30" y1="233.90" x2="329.80" y2="233.90" stroke="#303030" stroke-width="0.8"/>
<line x1="328.30" y1="193.10" x2="329.80" y2="193.10" stroke="#303030" stroke-width="0.8"/>
<line x1="432.30" y1="315.50" x2="432.30" y2="311.90" stroke="#303030" stroke-width="0.9"/>
<rect x="603.80" y="88.20" width="212.70" height="141.60" fill="none" stroke="#303030" stroke-width="1.75"/>
<line x1="603.80" y1="229.80" x2="606.30" y2="229.80" stroke="#303030" stroke-width="0.9"/>
<text x="600.80" y="233.10" text-anchor="end" class="tk" style="font-size:8.50px">−0.02</text>
<line x1="603.80" y1="206.20" x2="606.30" y2="206.20" stroke="#303030" stroke-width="0.9"/>
<text x="600.80" y="209.50" text-anchor="end" class="tk" style="font-size:8.50px">−0.01</text>
<line x1="603.80" y1="182.60" x2="606.30" y2="182.60" stroke="#303030" stroke-width="0.9"/>
<text x="600.80" y="185.90" text-anchor="end" class="tk" style="font-size:8.50px">0.00</text>
<line x1="603.80" y1="159.00" x2="606.30" y2="159.00" stroke="#303030" stroke-width="0.9"/>
<text x="600.80" y="162.30" text-anchor="end" class="tk" style="font-size:8.50px">0.01</text>
<line x1="603.80" y1="135.40" x2="606.30" y2="135.40" stroke="#303030" stroke-width="0.9"/>
<text x="600.80" y="138.70" text-anchor="end" class="tk" style="font-size:8.50px">0.02</text>
<line x1="603.80" y1="111.80" x2="606.30" y2="111.80" stroke="#303030" stroke-width="0.9"/>
<text x="600.80" y="115.10" text-anchor="end" class="tk" style="font-size:8.50px">0.03</text>
<line x1="603.80" y1="88.20" x2="606.30" y2="88.20" stroke="#303030" stroke-width="0.9"/>
<text x="600.80" y="91.50" text-anchor="end" class="tk" style="font-size:8.50px">0.04</text>
<line x1="708.40" y1="229.80" x2="708.40" y2="226.20" stroke="#303030" stroke-width="0.9"/>
<g transform="translate(13.40,212.80) rotate(-90)">
<text x="2.40" y="0.00" class="mi" font-size="16.50">f</text>
<text x="10.00" y="2.00" class="mi" font-size="13.20">η</text>
<text x="17.60" y="2.00" class="m" font-size="13.20">,</text>
<text x="21.60" y="2.00" class="mi" font-size="13.20">σ</text>
<text x="30.00" y="0.60" class="m" font-size="17.82">(</text>
<text x="35.60" y="-0.80" class="mi" font-size="19.50">ϕ</text>
<text x="46.40" y="2.40" class="mi" font-size="13.20">i</text>
<text x="50.60" y="0.60" class="m" font-size="17.82">)</text>
<text x="61.00" y="0.00" class="sn" font-size="13.20">cos</text>
<text x="85.00" y="-0.80" class="mi" font-size="19.50">ϕ</text>
<text x="96.00" y="2.40" class="mi" font-size="13.20">i</text>
</g>
<g transform="translate(295.50,121.10) rotate(-90)">
<text x="2.40" y="0.00" class="mi" font-size="16.50">f</text>
<text x="10.00" y="2.00" class="mi" font-size="13.20">η</text>
<text x="17.60" y="2.00" class="m" font-size="13.20">,</text>
<text x="21.60" y="2.00" class="mi" font-size="13.20">σ</text>
<text x="30.00" y="0.60" class="m" font-size="17.82">(</text>
<text x="35.60" y="-0.80" class="mi" font-size="19.50">ϕ</text>
<text x="46.40" y="2.40" class="mi" font-size="13.20">i</text>
<text x="50.60" y="0.60" class="m" font-size="17.82">)</text>
<text x="61.00" y="0.00" class="sn" font-size="13.20">cos</text>
<text x="85.00" y="-0.80" class="mi" font-size="19.50">ϕ</text>
<text x="96.00" y="2.40" class="mi" font-size="13.20">i</text>
</g>
<g transform="translate(295.50,294.30) rotate(-90)">
<text x="2.40" y="0.00" class="mi" font-size="16.50">f</text>
<text x="10.00" y="2.00" class="mi" font-size="13.20">η</text>
<text x="17.60" y="2.00" class="m" font-size="13.20">,</text>
<text x="21.60" y="2.00" class="mi" font-size="13.20">σ</text>
<text x="30.00" y="0.60" class="m" font-size="17.82">(</text>
<text x="35.60" y="-0.80" class="mi" font-size="19.50">ϕ</text>
<text x="46.40" y="2.40" class="mi" font-size="13.20">i</text>
<text x="50.60" y="0.60" class="m" font-size="17.82">)</text>
<text x="61.00" y="0.00" class="sn" font-size="13.20">cos</text>
<text x="85.00" y="-0.80" class="mi" font-size="19.50">ϕ</text>
<text x="96.00" y="2.40" class="mi" font-size="13.20">i</text>
</g>
<g transform="translate(572.10,203.10) rotate(-90)">
<text x="2.40" y="0.00" class="mi" font-size="16.50">f</text>
<text x="10.00" y="2.00" class="mi" font-size="13.20">η</text>
<text x="17.60" y="2.00" class="m" font-size="13.20">,</text>
<text x="21.60" y="2.00" class="mi" font-size="13.20">σ</text>
<text x="30.00" y="0.60" class="m" font-size="17.82">(</text>
<text x="35.60" y="-0.80" class="mi" font-size="19.50">ϕ</text>
<text x="46.40" y="2.40" class="mi" font-size="13.20">i</text>
<text x="50.60" y="0.60" class="m" font-size="17.82">)</text>
<text x="61.00" y="0.00" class="sn" font-size="13.20">cos</text>
<text x="85.00" y="-0.80" class="mi" font-size="19.50">ϕ</text>
<text x="96.00" y="2.40" class="mi" font-size="13.20">i</text>
</g>
<text x="149.20" y="261.10" font-size="19.50" fill="#000" text-anchor="middle" style="white-space:pre" ><tspan class="mi">ϕ</tspan><tspan class="mi" dy="2.20" dx="0.60" font-size="12.48">i</tspan></text>
<text x="432.50" y="343.80" font-size="19.50" fill="#000" text-anchor="middle" style="white-space:pre" ><tspan class="mi">ϕ</tspan><tspan class="mi" dy="2.20" dx="0.60" font-size="12.48">i</tspan></text>
<text x="711.80" y="258.10" font-size="19.50" fill="#000" text-anchor="middle" style="white-space:pre" ><tspan class="mi">ϕ</tspan><tspan class="mi" dy="2.20" dx="0.60" font-size="12.48">i</tspan></text>
<text x="42.60" y="242.90" text-anchor="middle" class="tk" style="font-size:9.10px">0.0</text>
<text x="147.00" y="243.40" font-size="10.80" fill="#000" text-anchor="middle" style="white-space:pre" ><tspan class="mi" font-size="11.66">π</tspan><tspan class="m" dy="0.60" dx="0.80" font-size="13.50">/</tspan><tspan class="m" dy="-0.60" dx="0.80">4</tspan></text>
<text x="251.60" y="243.40" font-size="10.80" fill="#000" text-anchor="middle" style="white-space:pre" ><tspan class="mi" font-size="11.66">π</tspan><tspan class="m" dy="0.60" dx="0.80" font-size="13.50">/</tspan><tspan class="m" dy="-0.60" dx="0.80">2</tspan></text>
<text x="329.30" y="325.00" text-anchor="middle" class="tk" style="font-size:8.90px">0.0</text>
<text x="433.70" y="325.60" font-size="10.80" fill="#000" text-anchor="middle" style="white-space:pre" ><tspan class="mi" font-size="11.66">π</tspan><tspan class="m" dy="0.60" dx="0.80" font-size="13.50">/</tspan><tspan class="m" dy="-0.60" dx="0.80">4</tspan></text>
<text x="538.00" y="325.60" font-size="10.80" fill="#000" text-anchor="middle" style="white-space:pre" ><tspan class="mi" font-size="11.66">π</tspan><tspan class="m" dy="0.60" dx="0.80" font-size="13.50">/</tspan><tspan class="m" dy="-0.60" dx="0.80">2</tspan></text>
<text x="605.30" y="240.30" text-anchor="middle" class="tk" style="font-size:8.90px">0.0</text>
<text x="709.00" y="241.40" font-size="10.80" fill="#000" text-anchor="middle" style="white-space:pre" ><tspan class="mi" font-size="11.66">π</tspan><tspan class="m" dy="0.60" dx="0.80" font-size="13.50">/</tspan><tspan class="m" dy="-0.60" dx="0.80">4</tspan></text>
<text x="812.80" y="241.40" font-size="10.80" fill="#000" text-anchor="middle" style="white-space:pre" ><tspan class="mi" font-size="11.66">π</tspan><tspan class="m" dy="0.60" dx="0.80" font-size="13.50">/</tspan><tspan class="m" dy="-0.60" dx="0.80">2</tspan></text>
<rect x="178.90" y="89.00" width="79.40" height="14.20" rx="1.8" fill="#fff" stroke="#777" stroke-width="0.9"/>
<text x="182.00" y="99.60" font-size="11.60" fill="#000" text-anchor="start" textLength="71.80" lengthAdjust="spacing" style="white-space:pre" ><tspan class="mi">λ</tspan><tspan class="m">/Δ </tspan><tspan class="op" dy="1.00" font-size="12.53">=</tspan><tspan class="m" dy="-1.00"> 0,  </tspan><tspan class="mi">α</tspan><tspan class="m"> </tspan><tspan class="op" dy="1.00" font-size="12.53">=</tspan><tspan class="m" dy="-1.00"> 0</tspan></text>
<rect x="449.30" y="1.00" width="92.60" height="13.40" rx="0" fill="#fff" stroke="#444" stroke-width="0.9"/>
<text x="455.10" y="11.20" font-size="11.60" fill="#000" text-anchor="start" textLength="84.30" lengthAdjust="spacing" style="white-space:pre" ><tspan class="mi">λ</tspan><tspan class="m">/Δ </tspan><tspan class="op" dy="1.00" font-size="12.53">=</tspan><tspan class="m" dy="-1.00"> 0.05,  </tspan><tspan class="mi">α</tspan><tspan class="m"> </tspan><tspan class="op" dy="1.00" font-size="12.53">=</tspan><tspan class="m" dy="-1.00"> 0</tspan></text>
<rect x="456.40" y="172.70" width="85.40" height="11.80" rx="0" fill="#fff" stroke="#444" stroke-width="0.9"/>
<text x="460.50" y="181.60" font-size="11.60" fill="#000" text-anchor="start" textLength="78.50" lengthAdjust="spacing" style="white-space:pre" ><tspan class="mi">λ</tspan><tspan class="m">/Δ </tspan><tspan class="op" dy="1.00" font-size="12.53">=</tspan><tspan class="m" dy="-1.00"> 0,  </tspan><tspan class="mi">α</tspan><tspan class="m"> </tspan><tspan class="op" dy="1.00" font-size="12.53">=</tspan><tspan class="m" dy="-1.00"> 0.2</tspan></text>
<rect x="718.00" y="88.20" width="98.50" height="13.80" rx="0" fill="#fff" stroke="#444" stroke-width="0.9"/>
<text x="720.60" y="98.60" font-size="11.60" fill="#000" text-anchor="start" textLength="92.90" lengthAdjust="spacing" style="white-space:pre" ><tspan class="mi">λ</tspan><tspan class="m">/Δ </tspan><tspan class="op" dy="1.00" font-size="12.53">=</tspan><tspan class="m" dy="-1.00"> 0.05,  </tspan><tspan class="mi">α</tspan><tspan class="m"> </tspan><tspan class="op" dy="1.00" font-size="12.53">=</tspan><tspan class="m" dy="-1.00"> 0.2</tspan></text>
<rect x="103.70" y="138.00" width="84.80" height="13.10" rx="1.5" fill="#fff" stroke="#777" stroke-width="0.9"/>
<text x="105.60" y="147.50" font-size="12.30" fill="#000" text-anchor="start" textLength="81.00" lengthAdjust="spacing" style="white-space:pre" ><tspan class="mi">η</tspan><tspan class="m"> </tspan><tspan class="op" dy="1.00" font-size="15.44">=</tspan><tspan class="m" dy="-1.00"> </tspan><tspan class="op" dy="1.00" font-size="15.44">±</tspan><tspan class="m" dy="-1.00">1, </tspan><tspan class="mi">σ</tspan><tspan class="m"> </tspan><tspan class="op" dy="1.00" font-size="15.44">=</tspan><tspan class="m" dy="-1.00"> </tspan><tspan class="op" dy="1.00" font-size="15.44">±</tspan><tspan class="m" dy="-1.00">1</tspan></text>
<path d="M434.50 26.90 Q433.70 41.80 427.29 46.38" fill="none" stroke="#111" stroke-width="0.9"/>
<polygon points="424.60,48.30 428.26,43.96 429.89,46.24" fill="#111"/>
<path d="M396.40 66.50 Q396.40 53.50 402.63 49.94" fill="none" stroke="#111" stroke-width="0.9"/>
<polygon points="405.50,48.30 401.42,52.24 400.03,49.81" fill="#111"/>
<rect x="403.70" y="13.60" width="51.60" height="13.30" rx="1.5" fill="#fff" stroke="#777" stroke-width="0.9"/>
<text x="406.70" y="23.30" font-size="12.30" fill="#00aa0a" text-anchor="start" textLength="45.60" lengthAdjust="spacing" style="white-space:pre" ><tspan class="mi">ησ</tspan><tspan class="m"> </tspan><tspan class="op" dy="1.00" font-size="15.44">=</tspan><tspan class="m" dy="-1.00"> </tspan><tspan class="op" dy="1.00" font-size="15.44">−</tspan><tspan class="m" dy="-1.00">1</tspan></text>
<rect x="380.20" y="66.50" width="44.90" height="14.90" rx="1.5" fill="#fff" stroke="#777" stroke-width="0.9"/>
<text x="384.50" y="77.80" font-size="12.30" fill="#0000ff" text-anchor="start" textLength="36.30" lengthAdjust="spacing" style="white-space:pre" ><tspan class="mi">ησ</tspan><tspan class="m"> </tspan><tspan class="op" dy="1.00" font-size="15.44">=</tspan><tspan class="m" dy="-1.00"> 1</tspan></text>
<path d="M436.30 211.00 Q437.00 255.00 412.92 260.29" fill="none" stroke="#111" stroke-width="0.9"/>
<polygon points="409.70,261.00 414.77,258.45 415.37,261.19" fill="#111"/>
<path d="M493.00 253.50 Q493.50 268.00 486.50 272.91" fill="none" stroke="#111" stroke-width="0.9"/>
<polygon points="483.80,274.80 487.50,270.50 489.11,272.79" fill="#111"/>
<rect x="406.30" y="196.80" width="77.50" height="14.30" rx="1.5" fill="#fff" stroke="#777" stroke-width="0.9"/>
<text x="408.20" y="207.50" font-size="12.30" fill="#c8820a" text-anchor="start" textLength="73.70" lengthAdjust="spacing" style="white-space:pre" ><tspan class="mi">η</tspan><tspan class="m"> </tspan><tspan class="op" dy="1.00" font-size="15.44">=</tspan><tspan class="m" dy="-1.00"> 1, </tspan><tspan class="mi">σ</tspan><tspan class="m"> </tspan><tspan class="op" dy="1.00" font-size="15.44">=</tspan><tspan class="m" dy="-1.00"> </tspan><tspan class="op" dy="1.00" font-size="15.44">±</tspan><tspan class="m" dy="-1.00">1</tspan></text>
<rect x="455.90" y="239.30" width="84.00" height="14.30" rx="1.5" fill="#fff" stroke="#777" stroke-width="0.9"/>
<text x="456.90" y="250.00" font-size="12.30" fill="#ff00ff" text-anchor="start" textLength="82.00" lengthAdjust="spacing" style="white-space:pre" ><tspan class="mi">η</tspan><tspan class="m"> </tspan><tspan class="op" dy="1.00" font-size="15.44">=</tspan><tspan class="m" dy="-1.00"> </tspan><tspan class="op" dy="1.00" font-size="15.44">−</tspan><tspan class="m" dy="-1.00">1, </tspan><tspan class="mi">σ</tspan><tspan class="m"> </tspan><tspan class="op" dy="1.00" font-size="15.44">=</tspan><tspan class="m" dy="-1.00"> </tspan><tspan class="op" dy="1.00" font-size="15.44">±</tspan><tspan class="m" dy="-1.00">1</tspan></text>
<path d="M692.70 106.00 Q692.20 120.20 686.34 124.15" fill="none" stroke="#111" stroke-width="0.9"/>
<polygon points="683.60,126.00 687.38,121.76 688.94,124.09" fill="#111"/>
<path d="M767.10 140.30 Q766.30 159.40 754.39 165.00" fill="none" stroke="#111" stroke-width="0.9"/>
<polygon points="751.40,166.40 755.78,162.79 756.97,165.33" fill="#111"/>
<path d="M723.30 190.70 Q715.00 189.50 681.18 156.89" fill="none" stroke="#111" stroke-width="0.9"/>
<polygon points="678.80,154.60 683.73,157.41 681.79,159.43" fill="#111"/>
<path d="M721.40 215.70 Q692.70 208.40 674.44 185.10" fill="none" stroke="#111" stroke-width="0.9"/>
<polygon points="672.40,182.50 676.89,185.97 674.69,187.69" fill="#111"/>
<rect x="622.80" y="91.50" width="77.20" height="14.40" rx="0" fill="#fff" stroke="#555" stroke-width="0.9"/>
<text x="624.70" y="102.30" font-size="12.30" fill="#0000ff" text-anchor="start" textLength="73.40" lengthAdjust="spacing" style="white-space:pre" ><tspan class="mi">η</tspan><tspan class="m"> </tspan><tspan class="op" dy="1.00" font-size="15.44">=</tspan><tspan class="m" dy="-1.00"> 1, </tspan><tspan class="mi">σ</tspan><tspan class="m"> </tspan><tspan class="op" dy="1.00" font-size="15.44">=</tspan><tspan class="m" dy="-1.00"> </tspan><tspan class="op" dy="1.00" font-size="15.44">−</tspan><tspan class="m" dy="-1.00">1</tspan></text>
<rect x="728.00" y="125.40" width="78.20" height="14.90" rx="0" fill="#fff" stroke="#555" stroke-width="0.9"/>
<text x="729.90" y="136.70" font-size="12.30" fill="#12c412" text-anchor="start" textLength="74.40" lengthAdjust="spacing" style="white-space:pre" ><tspan class="mi">η</tspan><tspan class="m"> </tspan><tspan class="op" dy="1.00" font-size="15.44">=</tspan><tspan class="m" dy="-1.00"> </tspan><tspan class="op" dy="1.00" font-size="15.44">−</tspan><tspan class="m" dy="-1.00">1, </tspan><tspan class="mi">σ</tspan><tspan class="m"> </tspan><tspan class="op" dy="1.00" font-size="15.44">=</tspan><tspan class="m" dy="-1.00"> 1</tspan></text>
<rect x="723.30" y="185.70" width="88.70" height="13.80" rx="0" fill="#fff" stroke="#555" stroke-width="0.9"/>
<text x="725.20" y="195.90" font-size="12.30" fill="#2ab4d2" text-anchor="start" textLength="84.90" lengthAdjust="spacing" style="white-space:pre" ><tspan class="mi">η</tspan><tspan class="m"> </tspan><tspan class="op" dy="1.00" font-size="15.44">=</tspan><tspan class="m" dy="-1.00"> </tspan><tspan class="op" dy="1.00" font-size="15.44">−</tspan><tspan class="m" dy="-1.00">1, </tspan><tspan class="mi">σ</tspan><tspan class="m"> </tspan><tspan class="op" dy="1.00" font-size="15.44">=</tspan><tspan class="m" dy="-1.00"> </tspan><tspan class="op" dy="1.00" font-size="15.44">−</tspan><tspan class="m" dy="-1.00">1</tspan></text>
<rect x="721.40" y="208.40" width="69.20" height="13.80" rx="0" fill="#fff" stroke="#555" stroke-width="0.9"/>
<text x="723.30" y="218.60" font-size="12.30" fill="#c8860a" text-anchor="start" textLength="65.40" lengthAdjust="spacing" style="white-space:pre" ><tspan class="mi">η</tspan><tspan class="m"> </tspan><tspan class="op" dy="1.00" font-size="15.44">=</tspan><tspan class="m" dy="-1.00"> 1, </tspan><tspan class="mi">σ</tspan><tspan class="m"> </tspan><tspan class="op" dy="1.00" font-size="15.44">=</tspan><tspan class="m" dy="-1.00"> 1</tspan></text>
<path d="M158.70 80.30 Q200.00 32.00 268.61 28.85" fill="none" stroke="#444" stroke-width="1.6"/>
<polygon points="280.60,28.30 260.92,35.71 268.61,28.85 260.32,22.72" fill="#444"/>
<rect x="186.20" y="35.60" width="40.50" height="16.80" rx="0" fill="#fff" stroke="#444" stroke-width="0.9"/>
<text x="206.45" y="47.50" font-size="14.20" fill="#000" text-anchor="middle" style="white-space:pre" ><tspan class="mi">λ</tspan><tspan class="m"> </tspan><tspan class="op" dy="1.00" font-size="17.83">≠</tspan><tspan class="m" dy="-1.00"> 0</tspan></text>
<path d="M548.20 23.60 Q632.00 24.00 669.69 68.91" fill="none" stroke="#444" stroke-width="1.6"/>
<polygon points="677.40,78.10 659.56,66.96 669.69,68.91 669.52,58.60" fill="#444"/>
<rect x="587.70" y="27.10" width="41.40" height="16.40" rx="0" fill="#fff" stroke="#444" stroke-width="0.9"/>
<text x="608.40" y="38.60" font-size="14.20" fill="#000" text-anchor="middle" style="white-space:pre" ><tspan class="mi">α</tspan><tspan class="m"> </tspan><tspan class="op" dy="1.00" font-size="17.83">≠</tspan><tspan class="m" dy="-1.00"> 0</tspan></text>
<path d="M167.90 256.90 Q208.00 306.00 281.61 303.68" fill="none" stroke="#444" stroke-width="1.6"/>
<polygon points="293.60,303.30 273.81,310.43 281.61,303.68 273.41,297.43" fill="#444"/>
<rect x="201.00" y="286.30" width="41.70" height="17.40" rx="0" fill="#fff" stroke="#444" stroke-width="0.9"/>
<text x="221.85" y="298.80" font-size="14.20" fill="#000" text-anchor="middle" style="white-space:pre" ><tspan class="mi">α</tspan><tspan class="m"> </tspan><tspan class="op" dy="1.00" font-size="17.83">≠</tspan><tspan class="m" dy="-1.00"> 0</tspan></text>
<path d="M549.10 301.00 Q632.00 301.00 670.43 255.75" fill="none" stroke="#444" stroke-width="1.6"/>
<polygon points="678.20,246.60 670.21,266.05 670.43,255.75 660.30,257.64" fill="#444"/>
<rect x="595.50" y="281.50" width="40.80" height="16.60" rx="0" fill="#fff" stroke="#444" stroke-width="0.9"/>
<text x="615.90" y="293.20" font-size="14.20" fill="#000" text-anchor="middle" style="white-space:pre" ><tspan class="mi">λ</tspan><tspan class="m"> </tspan><tspan class="op" dy="1.00" font-size="17.83">≠</tspan><tspan class="m" dy="-1.00"> 0</tspan></text>
</svg>
</body></html>
